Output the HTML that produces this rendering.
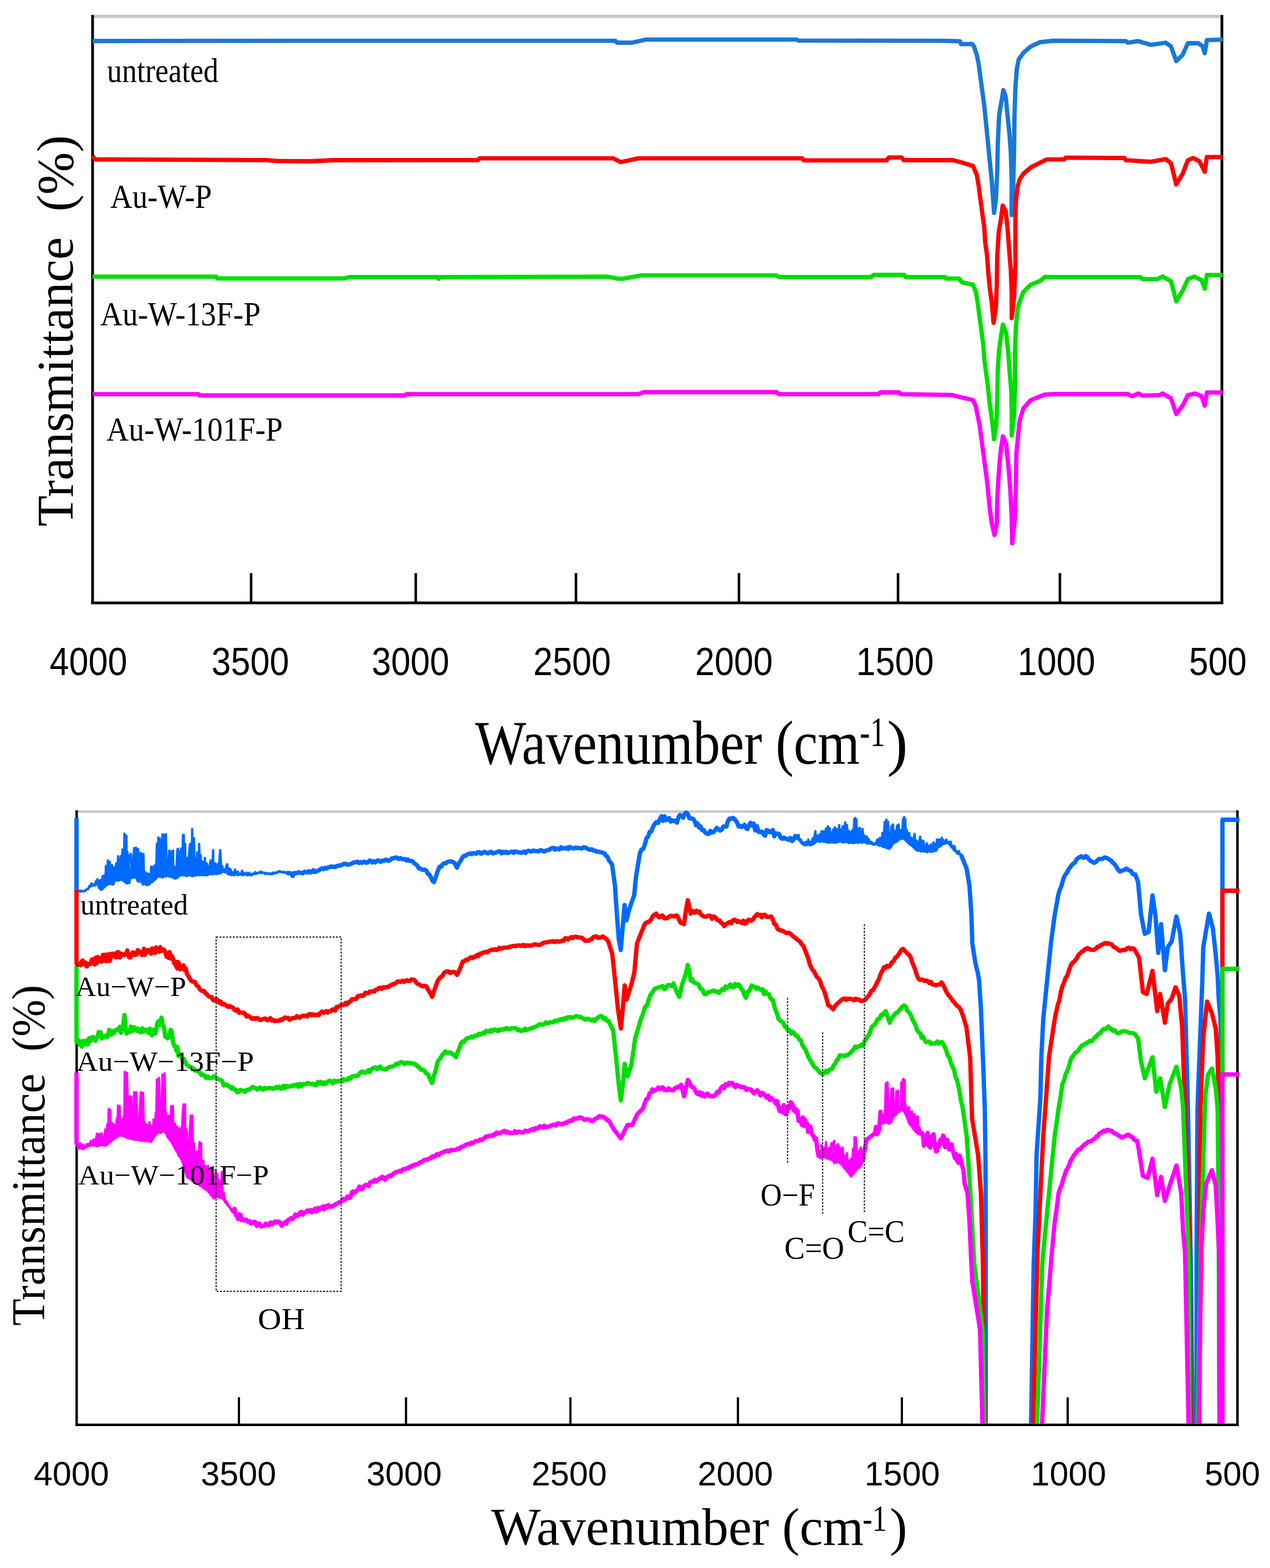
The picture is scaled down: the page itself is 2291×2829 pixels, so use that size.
<!DOCTYPE html>
<html><head><meta charset="utf-8"><title>FTIR spectra</title><style>html,body{margin:0;padding:0;background:#fff;overflow:hidden}svg{display:block}</style></head><body>
<svg width="2291" height="2829" viewBox="0 0 2291 2829">
<rect width="2291" height="2829" fill="#fff"/>
<line x1="167" y1="29.5" x2="2204" y2="29.5" stroke="#c8c8c8" stroke-width="6" />
<line x1="167" y1="27" x2="167" y2="1090" stroke="#000" stroke-width="5" />
<line x1="2204.2" y1="27" x2="2204.2" y2="1090" stroke="#000" stroke-width="5" />
<line x1="164.5" y1="1087.7" x2="2206.7" y2="1087.7" stroke="#000" stroke-width="5" />
<line x1="453" y1="1034" x2="453" y2="1088" stroke="#000" stroke-width="4.6" />
<line x1="750" y1="1034" x2="750" y2="1088" stroke="#000" stroke-width="4.6" />
<line x1="1039" y1="1034" x2="1039" y2="1088" stroke="#000" stroke-width="4.6" />
<line x1="1333" y1="1034" x2="1333" y2="1088" stroke="#000" stroke-width="4.6" />
<line x1="1620" y1="1034" x2="1620" y2="1088" stroke="#000" stroke-width="4.6" />
<line x1="1912" y1="1034" x2="1912" y2="1088" stroke="#000" stroke-width="4.6" />
<polyline points="167.0,74.0 600.0,73.6 1110.0,73.6 1113.0,77.0 1140.0,77.0 1166.0,71.3 1437.0,71.3 1440.0,73.2 1700.0,73.6 1731.9,74.4 1733.6,79.5 1753.7,79.5 1757.0,83.7 1762.0,98.8 1765.5,115.6 1768.8,140.8 1772.2,166.0 1775.6,191.0 1779.0,224.7 1782.3,258.3 1785.6,291.9 1789.0,325.5 1791.5,359.0 1793.2,384.0 1796.6,359.0 1799.0,308.7 1800.0,258.3 1802.4,207.9 1806.6,182.7 1810.0,162.6 1814.2,174.3 1817.5,208.0 1821.0,241.5 1823.4,275.0 1825.1,325.5 1824.8,388.0 1827.6,342.0 1829.3,275.0 1830.1,208.0 1831.8,157.5 1834.3,124.0 1837.7,107.2 1846.0,95.4 1859.5,83.7 1876.3,76.1 1900.0,73.5 2030.7,74.2 2034.5,77.0 2053.5,74.2 2076.3,80.9 2102.9,77.0 2112.4,83.7 2121.9,110.3 2133.3,99.0 2142.9,78.0 2161.9,78.0 2169.5,83.7 2173.3,96.0 2177.1,72.3 2205.6,71.4" fill="none" stroke="#1a78d6" stroke-width="7.8" stroke-linejoin="round" stroke-linecap="butt" />
<polyline points="167.0,281.0 171.0,287.5 480.0,288.8 500.0,290.5 560.0,291.0 600.0,289.0 862.0,288.8 865.0,285.6 1106.0,285.6 1119.7,292.5 1152.0,285.6 1447.0,285.6 1450.0,289.3 1599.0,289.3 1603.6,284.2 1626.6,284.2 1630.0,289.0 1718.8,289.0 1733.6,292.7 1755.4,299.5 1762.1,315.4 1765.5,335.6 1768.8,360.8 1772.2,386.0 1775.6,411.0 1777.2,436.3 1780.6,461.5 1783.1,495.0 1785.6,520.3 1789.0,545.5 1792.4,582.4 1796.6,553.9 1798.2,511.9 1799.0,461.5 1801.6,419.5 1805.8,394.3 1808.8,370.8 1814.2,380.9 1817.5,411.0 1820.0,444.7 1823.4,486.7 1825.1,528.7 1825.1,574.0 1829.3,537.0 1831.8,478.3 1831.8,394.3 1832.7,360.8 1836.0,335.6 1839.4,323.8 1846.0,313.7 1859.5,302.0 1876.3,293.6 1888.0,287.7 1920.0,287.5 1922.3,284.3 2028.8,285.2 2030.7,289.0 2076.3,291.9 2102.9,287.0 2112.4,294.7 2121.9,332.8 2133.3,313.8 2142.9,289.0 2152.4,285.2 2163.8,291.0 2173.3,310.0 2177.1,283.3 2205.6,283.3" fill="none" stroke="#ff0000" stroke-width="7.8" stroke-linejoin="round" stroke-linecap="butt" />
<polyline points="167.0,499.2 390.0,499.2 392.0,502.4 620.8,502.4 630.0,500.0 789.0,500.0 791.0,503.0 793.0,500.0 1096.7,499.2 1115.0,502.9 1124.0,502.9 1156.6,496.9 1400.8,496.9 1405.4,500.0 1571.3,500.0 1576.0,496.0 1631.0,496.0 1634.0,500.0 1705.0,500.0 1706.7,502.7 1730.2,502.7 1735.3,509.4 1755.4,513.6 1760.5,527.0 1763.8,547.2 1767.2,572.4 1770.5,597.5 1773.9,622.7 1775.6,647.9 1778.9,673.0 1782.3,698.3 1784.8,723.5 1788.2,748.7 1791.5,773.9 1793.2,792.3 1797.4,765.5 1799.0,715.0 1800.0,664.7 1802.4,631.0 1805.8,606.0 1809.2,585.8 1815.0,600.9 1818.4,631.0 1820.9,664.7 1824.3,706.7 1825.1,748.7 1825.1,785.6 1829.3,748.7 1831.0,698.3 1831.0,631.0 1832.7,589.0 1836.0,555.6 1839.4,543.8 1846.0,527.0 1859.5,513.6 1876.3,506.9 1884.7,500.0 2057.3,500.0 2061.0,503.7 2087.7,503.7 2097.2,499.0 2112.4,507.5 2121.9,543.7 2133.3,524.6 2142.9,503.7 2154.3,499.0 2167.6,505.6 2173.3,520.8 2177.1,496.1 2205.6,496.1" fill="none" stroke="#00dd00" stroke-width="7.8" stroke-linejoin="round" stroke-linecap="butt" />
<polyline points="167.0,711.2 358.0,711.2 360.0,713.5 731.0,713.5 733.0,711.2 1152.0,711.2 1161.0,707.5 1400.8,707.5 1405.0,711.2 1585.0,711.2 1588.0,708.0 1622.0,708.0 1625.0,711.2 1716.8,712.6 1733.6,716.8 1755.4,721.8 1760.5,733.6 1763.8,750.4 1767.2,767.2 1770.5,792.4 1773.9,817.5 1777.2,842.7 1780.6,867.9 1783.1,893.1 1785.6,918.3 1789.0,943.5 1794.0,965.3 1798.2,943.5 1799.0,901.5 1800.8,867.9 1803.3,834.3 1805.8,809.2 1809.2,787.3 1815.0,800.8 1817.5,826.0 1820.0,851.1 1822.6,884.7 1825.1,935.1 1826.0,980.4 1831.0,935.1 1832.7,867.9 1833.5,817.5 1836.0,792.4 1839.4,758.8 1846.0,736.9 1859.5,721.8 1876.3,715.1 1884.7,711.8 1905.2,711.0 2034.5,711.0 2042.0,714.8 2053.5,710.0 2061.0,713.8 2091.5,712.9 2097.2,710.0 2112.4,718.6 2121.9,747.0 2133.3,731.9 2142.9,712.9 2156.2,710.0 2167.6,714.8 2173.3,731.9 2177.1,708.1 2205.6,708.1" fill="none" stroke="#ff00ff" stroke-width="7.8" stroke-linejoin="round" stroke-linecap="butt" />
<text x="159.4" y="1217.5" font-size="71" font-family="'Liberation Sans', Arial, sans-serif" text-anchor="middle" textLength="140" lengthAdjust="spacingAndGlyphs" >4000</text>
<text x="451.5" y="1217.5" font-size="71" font-family="'Liberation Sans', Arial, sans-serif" text-anchor="middle" textLength="140" lengthAdjust="spacingAndGlyphs" >3500</text>
<text x="740.5" y="1217.5" font-size="71" font-family="'Liberation Sans', Arial, sans-serif" text-anchor="middle" textLength="140" lengthAdjust="spacingAndGlyphs" >3000</text>
<text x="1032" y="1217.5" font-size="71" font-family="'Liberation Sans', Arial, sans-serif" text-anchor="middle" textLength="140" lengthAdjust="spacingAndGlyphs" >2500</text>
<text x="1324" y="1217.5" font-size="71" font-family="'Liberation Sans', Arial, sans-serif" text-anchor="middle" textLength="140" lengthAdjust="spacingAndGlyphs" >2000</text>
<text x="1614.5" y="1217.5" font-size="71" font-family="'Liberation Sans', Arial, sans-serif" text-anchor="middle" textLength="140" lengthAdjust="spacingAndGlyphs" >1500</text>
<text x="1905.7" y="1217.5" font-size="71" font-family="'Liberation Sans', Arial, sans-serif" text-anchor="middle" textLength="140" lengthAdjust="spacingAndGlyphs" >1000</text>
<text x="2197" y="1217.5" font-size="71" font-family="'Liberation Sans', Arial, sans-serif" text-anchor="middle" textLength="104" lengthAdjust="spacingAndGlyphs" >500</text>
<text x="193" y="148.3" font-size="61" font-family="'Liberation Serif', 'Times New Roman', serif" text-anchor="start" textLength="201" lengthAdjust="spacingAndGlyphs" >untreated</text>
<text x="199" y="374.8" font-size="61" font-family="'Liberation Serif', 'Times New Roman', serif" text-anchor="start" textLength="183" lengthAdjust="spacingAndGlyphs" >Au-W-P</text>
<text x="181" y="586.5" font-size="61" font-family="'Liberation Serif', 'Times New Roman', serif" text-anchor="start" textLength="289" lengthAdjust="spacingAndGlyphs" >Au-W-13F-P</text>
<text x="192" y="794.5" font-size="61" font-family="'Liberation Serif', 'Times New Roman', serif" text-anchor="start" textLength="318" lengthAdjust="spacingAndGlyphs" >Au-W-101F-P</text>
<text x="857" y="1377.7" font-size="113" font-family="'Liberation Serif', 'Times New Roman', serif" text-anchor="start" textLength="694" lengthAdjust="spacingAndGlyphs" >Wavenumber (cm</text>
<text x="1551" y="1345.5" font-size="76" font-family="'Liberation Serif', 'Times New Roman', serif" text-anchor="start" textLength="46" lengthAdjust="spacingAndGlyphs" >-1</text>
<text x="1600" y="1377.7" font-size="113" font-family="'Liberation Serif', 'Times New Roman', serif" text-anchor="start" >)</text>
<g transform="translate(131,950) rotate(-90)"><text x="0" y="0" font-size="93" font-family="'Liberation Serif', 'Times New Roman', serif" text-anchor="start" textLength="706" lengthAdjust="spacingAndGlyphs" >Transmittance&#160; (%)</text></g>
<line x1="138" y1="1464.2" x2="2232" y2="1464.2" stroke="#c8c8c8" stroke-width="4.5" />
<line x1="138.3" y1="1462" x2="138.3" y2="2573" stroke="#000" stroke-width="4.5" />
<line x1="2232.3" y1="1462" x2="2232.3" y2="2573" stroke="#000" stroke-width="4.5" />
<line x1="136" y1="2570.7" x2="2234.5" y2="2570.7" stroke="#000" stroke-width="4.5" />
<line x1="431" y1="2521" x2="431" y2="2570" stroke="#000" stroke-width="4" />
<line x1="732.4" y1="2521" x2="732.4" y2="2570" stroke="#000" stroke-width="4" />
<line x1="1029" y1="2521" x2="1029" y2="2570" stroke="#000" stroke-width="4" />
<line x1="1331.2" y1="2521" x2="1331.2" y2="2570" stroke="#000" stroke-width="4" />
<line x1="1626.9" y1="2521" x2="1626.9" y2="2570" stroke="#000" stroke-width="4" />
<line x1="1926" y1="2521" x2="1926" y2="2570" stroke="#000" stroke-width="4" />
<defs><clipPath id="cb"><rect x="100" y="1440" width="2191" height="1128.5"/></clipPath></defs>
<g clip-path="url(#cb)">
<polyline points="138.0,1476.0 138.0,1608.6 141.0,1608.0" fill="none" stroke="#006aff" stroke-width="7.8" stroke-linejoin="round" stroke-linecap="butt" />
<polyline points="519.0,1574.4 520.0,1575.8 522.7,1575.1 525.3,1576.2 528.0,1580.5 530.6,1575.1 533.3,1575.1 536.0,1575.3 538.6,1573.6 541.3,1574.7 544.0,1575.1 546.6,1575.6 549.3,1572.7 551.9,1573.4 554.6,1574.0 557.2,1571.8 559.9,1574.2 562.5,1573.2 565.2,1570.0 567.8,1573.2 570.5,1572.6 573.1,1570.8 575.8,1570.2 578.4,1567.8 581.1,1566.7 583.7,1568.2 586.4,1565.8 589.0,1567.0 591.7,1565.1 594.3,1564.7 597.0,1563.2 599.7,1564.2 602.3,1563.5 605.0,1564.4 607.7,1562.5 610.4,1562.3 613.0,1561.1 615.7,1561.1 618.4,1559.6 621.0,1558.3 623.7,1558.5 626.4,1560.2 629.0,1559.9 631.7,1559.1 634.3,1558.3 637.0,1556.4 639.7,1555.8 642.3,1555.8 645.0,1554.6 647.7,1557.1 650.3,1555.4 653.0,1556.9 655.6,1554.8 658.3,1555.0 661.0,1556.7 663.6,1556.1 666.3,1552.6 668.9,1553.3 671.6,1556.0 674.2,1554.1 676.9,1556.0 679.5,1553.5 682.2,1552.1 684.8,1554.2 687.5,1554.7 690.1,1552.5 692.8,1553.3 695.5,1551.1 698.2,1551.5 700.9,1553.4 703.6,1552.0 706.2,1548.9 708.9,1548.8 711.6,1547.7 714.3,1546.9 717.0,1548.1 719.7,1549.9 722.4,1548.0 725.1,1550.1 727.8,1550.2 730.4,1549.8 733.1,1552.5 735.8,1550.7 738.5,1553.3 741.2,1553.3 744.1,1554.1 747.0,1557.6 749.9,1559.1 752.7,1561.6 755.6,1566.8 758.5,1567.2 762.0,1569.5 765.4,1568.7 768.9,1570.6 771.7,1576.3 774.4,1577.7 777.2,1582.6 779.9,1588.6 782.7,1591.3 786.1,1582.7 789.6,1571.3 793.0,1563.7 795.8,1563.9 798.6,1559.1 801.4,1557.5 804.2,1557.8 807.0,1555.0 810.4,1554.3 813.9,1554.2 817.3,1555.0 820.8,1558.5 824.2,1565.4 827.6,1557.4 831.1,1553.1 834.5,1546.4 837.3,1544.0 840.1,1544.0 842.8,1541.7 845.6,1540.7 848.4,1539.5 851.1,1541.2 853.7,1539.2 856.4,1539.4 859.0,1540.4 861.7,1537.6 864.4,1537.3 867.0,1540.2 869.7,1539.7 872.4,1537.3 875.0,1537.0 877.7,1539.0 880.3,1539.7 883.0,1537.8 885.7,1536.6 888.5,1539.6 891.2,1539.3 893.9,1538.2 896.6,1537.5 899.4,1536.2 902.1,1536.0 904.8,1539.7 907.5,1536.8 910.3,1538.6 913.0,1536.8 915.7,1539.1 918.4,1538.2 921.2,1537.0 923.9,1536.5 926.6,1538.7 929.3,1536.1 932.1,1536.7 934.8,1537.8 937.5,1537.9 940.1,1538.9 942.8,1537.8 945.4,1536.4 948.1,1538.8 950.8,1535.8 953.4,1534.9 956.1,1535.8 958.8,1536.3 961.4,1534.7 964.1,1535.0 966.7,1535.6 969.4,1536.0 972.1,1535.9 974.7,1533.7 977.4,1534.3 980.0,1536.0 982.7,1536.0 985.4,1534.3 988.0,1534.0 990.7,1533.2 993.4,1531.0 996.0,1530.2 998.7,1529.8 1001.3,1532.9 1004.0,1530.9 1006.7,1531.6 1009.3,1532.5 1012.0,1528.6 1014.6,1530.9 1017.3,1530.1 1019.9,1531.0 1022.6,1529.2 1025.2,1531.8 1027.9,1528.0 1030.5,1529.7 1033.2,1530.3 1035.8,1530.8 1038.5,1529.1 1041.4,1530.0 1044.3,1529.9 1047.2,1530.3 1050.0,1530.8 1052.9,1528.5 1055.8,1529.1 1058.7,1530.7 1061.5,1532.4 1064.4,1533.2 1067.3,1532.2 1070.1,1534.6 1073.0,1534.3 1075.9,1536.6 1078.8,1536.3 1081.7,1537.4 1084.5,1537.3 1087.4,1539.0 1090.3,1539.5 1093.1,1544.0 1095.9,1546.0 1098.6,1552.4 1101.4,1555.9 1104.2,1560.0 1109.4,1598.3 1112.8,1650.0 1116.3,1695.0 1119.8,1714.0 1123.2,1674.3 1126.7,1632.8 1130.1,1660.5 1135.3,1639.7 1144.0,1615.5 1147.4,1581.0 1154.3,1539.5 1157.3,1532.6 1160.3,1531.6 1163.4,1523.3 1166.4,1511.8 1169.2,1509.7 1171.9,1500.8 1174.7,1500.2 1177.4,1493.5 1180.2,1487.7 1183.7,1483.5 1187.1,1484.8 1190.6,1477.3 1193.4,1472.6 1196.1,1481.0 1198.9,1472.7 1201.7,1479.9 1204.4,1478.8 1207.2,1476.1 1210.0,1482.1 1212.8,1480.0 1215.5,1481.7 1218.3,1480.7 1221.1,1484.2 1223.9,1474.7 1226.7,1470.3 1229.5,1472.3 1232.3,1475.3 1235.1,1468.1 1237.9,1466.1 1240.7,1468.6 1243.7,1476.5 1246.8,1476.6 1249.8,1477.0 1252.8,1480.7 1255.6,1488.9 1258.4,1485.5 1261.1,1493.1 1263.9,1490.9 1266.7,1498.0 1269.7,1497.7 1272.6,1502.7 1275.6,1504.5 1278.5,1504.6 1281.5,1499.1 1284.4,1502.0 1287.4,1501.5 1290.3,1497.6 1293.2,1493.7 1296.1,1496.3 1298.9,1498.6 1301.8,1497.0 1304.7,1491.1 1307.6,1491.1 1310.5,1491.3 1313.3,1480.7 1316.2,1476.8 1319.1,1477.6 1322.0,1475.6 1325.4,1478.1 1328.9,1482.5 1332.3,1491.1 1335.0,1489.9 1337.7,1492.2 1340.4,1490.5 1343.1,1488.1 1345.7,1494.2 1348.4,1495.8 1351.1,1489.2 1353.8,1484.5 1356.5,1489.4 1359.5,1486.0 1362.4,1498.3 1365.4,1490.5 1368.4,1500.8 1371.4,1501.3 1374.3,1500.4 1377.3,1504.9 1380.1,1507.7 1382.8,1497.8 1385.6,1498.5 1388.3,1501.6 1391.1,1501.5 1394.0,1497.5 1396.9,1508.9 1399.8,1503.5 1402.6,1504.1 1405.5,1504.6 1408.4,1511.8 1411.3,1513.4 1414.2,1511.2 1417.1,1513.4 1419.9,1513.7 1422.8,1515.5 1425.7,1511.8 1428.8,1517.3 1431.8,1514.1 1434.9,1508.3 1437.9,1511.6 1441.0,1511.9" fill="none" stroke="#006aff" stroke-width="7.8" stroke-linejoin="round" stroke-linecap="butt" />
<polyline points="1734.0,1543.0 1743.7,1567.2 1748.9,1598.3 1752.3,1650.1 1754.0,1702.0 1759.3,1736.5 1763.9,1755.3 1766.2,1769.1 1769.6,1821.0 1773.1,1907.4 1776.5,2000.0 1777.8,2098.3 1778.3,2260.0 1778.3,2600.0 1859.5,2600.0 1864.7,2280.0 1868.1,2187.4 1869.9,2083.7 1876.8,1980.0 1878.5,1907.4 1882.0,1838.3 1888.9,1769.1 1895.8,1702.0 1902.7,1650.1 1906.2,1630.9 1909.6,1612.0 1912.2,1604.5 1914.8,1598.2 1917.4,1588.6 1920.0,1581.0 1922.8,1576.9 1925.5,1573.0 1928.3,1567.3 1931.0,1564.4 1933.8,1560.2 1936.6,1558.0 1939.3,1555.9 1942.1,1550.3 1944.8,1548.4 1947.6,1546.4 1950.4,1544.8 1953.2,1547.6 1955.9,1547.2 1958.7,1544.6 1961.5,1546.4 1964.5,1550.9 1967.5,1553.5 1970.6,1554.8 1973.6,1556.8 1976.6,1555.5 1979.7,1552.0 1982.7,1549.7 1985.7,1549.9 1989.1,1549.4 1992.6,1546.9 1996.0,1548.1 1998.8,1548.9 2001.6,1551.2 2004.3,1552.5 2007.1,1556.3 2009.9,1558.5 2013.3,1562.9 2016.8,1569.1 2020.2,1572.3 2023.2,1571.1 2026.2,1570.3 2029.3,1568.5 2032.3,1567.2 2034.9,1569.6 2037.5,1570.5 2040.1,1571.5 2042.7,1576.1 2045.3,1577.8 2047.9,1577.5 2053.0,1591.3 2058.3,1650.1 2065.2,1684.7 2072.1,1681.2 2079.0,1615.5 2084.2,1650.1 2089.4,1719.2 2094.5,1667.4 2101.4,1750.4 2106.6,1708.9 2113.6,1698.5 2122.2,1653.6 2129.1,1684.7 2134.3,1760.0 2137.8,1803.7 2143.0,2000.0 2148.1,2280.0 2151.6,2600.0 2158.5,2600.0 2158.5,2280.0 2160.2,2000.0 2168.9,1769.1 2170.6,1708.9 2181.0,1648.4 2187.9,1674.3 2193.1,1722.7 2196.5,1760.0 2198.3,1800.0 2201.7,1838.3 2203.0,2000.0 2204.0,2600.0 2205.2,2600.0 2205.2,1479.0 2236.0,1479.0" fill="none" stroke="#006aff" stroke-width="7.8" stroke-linejoin="round" stroke-linecap="butt" />
<polyline points="140.0,1607.5 142.4,1607.4 144.8,1609.1 147.2,1606.8 149.6,1608.2 152.0,1607.7 153.0,1606.5 154.4,1607.0 156.8,1603.8 159.2,1603.8 161.6,1598.2 164.0,1599.1 165.0,1593.5 166.4,1598.1 168.8,1595.6 171.2,1597.9 173.6,1588.9 176.0,1586.5 178.4,1601.7 180.8,1587.8 183.2,1603.9 185.0,1580.5 185.6,1598.1 188.0,1579.4 190.4,1590.1 191.0,1562.5 192.8,1595.3 194.5,1552.4 195.2,1584.9 197.6,1560.2 198.0,1554.5 200.0,1587.4 202.0,1560.5 202.4,1587.3 204.8,1564.3 207.2,1586.4 209.6,1558.2 210.0,1557.5 212.0,1582.8 213.0,1544.5 214.4,1584.3 216.8,1556.3 218.0,1544.5 219.2,1587.0 221.0,1532.5 221.6,1588.7 224.0,1531.4 224.5,1504.0 226.4,1586.2 228.0,1507.5 228.8,1574.2 230.0,1537.0 231.2,1583.6 233.6,1543.3 236.0,1540.5 238.4,1573.4 240.8,1548.2 242.0,1530.0 243.2,1575.9 245.2,1529.3 245.6,1569.6 248.0,1552.1 249.0,1531.5 250.4,1581.0 251.0,1551.5 252.8,1579.8 253.5,1538.7 255.2,1582.8 255.6,1540.8 257.6,1587.7 258.7,1540.5 260.0,1592.1 262.0,1573.5 262.4,1592.8 264.8,1579.2 266.0,1575.5 267.2,1594.1 269.6,1577.2 272.0,1586.5 272.5,1563.5 274.4,1591.1 276.8,1563.4 279.2,1583.5 280.0,1560.5 281.6,1578.5 283.0,1522.5 284.0,1580.9 285.5,1510.9 286.4,1567.6 288.0,1512.5 288.8,1580.3 291.2,1552.0 291.3,1532.5 293.2,1505.0 293.6,1568.1 296.0,1506.3 298.4,1561.6 299.3,1505.0 300.8,1576.3 301.0,1558.5 303.2,1574.8 305.3,1534.5 305.6,1575.5 308.0,1553.1 308.6,1536.2 310.4,1573.1 312.2,1534.5 312.8,1584.1 315.2,1565.3 315.7,1564.5 317.6,1579.3 320.0,1532.5 321.2,1531.5 322.4,1570.2 324.8,1542.0 327.0,1530.9 327.2,1575.0 329.6,1530.5 330.0,1506.7 331.6,1506.3 332.0,1576.7 334.0,1522.5 334.4,1579.4 336.8,1552.3 338.5,1547.5 339.2,1578.6 341.6,1533.9 343.0,1522.5 344.0,1576.9 346.4,1518.1 346.6,1495.9 348.8,1572.0 350.0,1512.5 351.2,1571.3 353.0,1550.5 353.6,1572.0 356.0,1537.5 358.4,1579.0 359.3,1522.5 360.8,1579.0 362.0,1542.5 363.2,1572.1 365.6,1561.8 366.0,1554.5 368.0,1571.2 369.6,1547.8 370.4,1578.9 372.8,1564.6 373.0,1557.5 375.2,1572.7 377.6,1564.7 380.0,1552.5 382.4,1574.7 384.6,1533.9 384.8,1577.3 387.2,1558.7 388.0,1557.5 389.6,1572.1 392.0,1560.0 393.0,1558.5 394.4,1569.4 396.8,1539.2 397.3,1533.9 399.2,1567.7 401.0,1562.5 401.6,1571.8 404.0,1568.0 406.4,1573.5 408.8,1561.0 410.0,1559.3 411.2,1572.7 413.6,1567.2 416.0,1568.5 418.4,1576.5 420.8,1573.6 423.2,1578.6 423.8,1568.5 425.6,1575.5 428.0,1574.3 429.0,1572.5 430.4,1577.7 432.8,1576.4 435.2,1577.8 436.5,1570.8 437.6,1577.1 440.0,1574.6 442.4,1577.8 444.8,1576.4 445.0,1574.5 447.2,1578.8 449.6,1574.8 452.0,1578.5 454.4,1576.7 456.8,1576.1 459.2,1577.0 460.0,1573.5 461.6,1575.4 464.0,1575.0 466.4,1574.3 468.8,1573.7 471.0,1572.5 471.2,1574.3 473.6,1574.3 476.0,1574.4 478.4,1577.1 480.8,1575.2 483.2,1577.2 485.6,1575.4 487.0,1576.5 488.0,1576.7 490.4,1577.5 492.8,1574.2 495.2,1576.3 497.6,1574.0 500.0,1575.0 502.4,1572.6 503.0,1572.5 504.8,1571.7 507.2,1573.5 509.6,1573.2 512.0,1574.7 514.4,1573.5 516.8,1575.4 519.2,1573.0 520.0,1574.5" fill="none" stroke="#006aff" stroke-width="4.2" stroke-linejoin="round" stroke-linecap="butt" />
<polygon points="140.0,1608.3 142.4,1608.2 144.8,1608.1 147.2,1608.1 149.6,1608.0 152.0,1607.9 153.0,1607.9 154.4,1606.7 156.8,1604.6 159.2,1602.6 161.6,1600.5 164.0,1598.5 165.0,1597.6 166.4,1597.0 168.8,1595.9 171.2,1594.9 173.6,1593.8 176.0,1592.8 178.4,1595.0 180.8,1596.2 183.2,1595.0 185.0,1594.1 185.6,1593.2 188.0,1589.0 190.4,1584.7 191.0,1583.7 192.8,1580.5 194.5,1577.6 195.2,1577.4 197.6,1577.7 198.0,1577.8 200.0,1579.2 202.0,1580.5 202.4,1580.5 204.8,1580.1 207.2,1576.0 209.6,1575.9 210.0,1575.8 212.0,1572.2 213.0,1570.4 214.4,1570.5 216.8,1569.6 218.0,1569.0 219.2,1566.3 221.0,1563.9 221.6,1561.9 224.0,1554.1 224.5,1552.5 226.4,1554.2 228.0,1555.6 228.8,1560.9 230.0,1568.9 231.2,1569.2 233.6,1569.8 236.0,1564.9 238.4,1563.1 240.8,1561.2 242.0,1560.2 243.2,1560.1 245.2,1559.9 245.6,1560.0 248.0,1564.5 249.0,1564.7 250.4,1571.0 251.0,1573.7 252.8,1569.6 253.5,1568.0 255.2,1569.9 255.6,1570.4 257.6,1571.6 258.7,1571.7 260.0,1577.6 262.0,1586.7 262.4,1586.8 264.8,1587.5 266.0,1587.8 267.2,1586.5 269.6,1583.8 272.0,1581.1 272.5,1580.5 274.4,1579.6 276.8,1578.4 279.2,1576.6 280.0,1575.9 281.6,1565.8 283.0,1556.9 284.0,1554.2 285.5,1551.1 286.4,1551.3 288.0,1551.8 288.8,1554.0 291.2,1560.5 291.3,1560.8 293.2,1548.4 293.6,1548.5 296.0,1548.9 298.4,1548.1 299.3,1547.8 300.8,1568.9 301.0,1571.7 303.2,1565.9 305.3,1561.0 305.6,1561.1 308.0,1562.1 308.6,1562.4 310.4,1562.3 312.2,1562.3 312.8,1564.7 315.2,1574.4 315.7,1576.4 317.6,1570.4 320.0,1561.6 321.2,1560.6 322.4,1560.1 324.8,1558.9 327.0,1557.9 327.2,1557.2 329.6,1548.6 330.0,1547.2 331.6,1547.1 332.0,1548.3 334.0,1554.5 334.4,1555.5 336.8,1561.7 338.5,1566.0 339.2,1564.3 341.6,1558.4 343.0,1555.0 344.0,1551.8 346.4,1543.9 346.6,1543.2 348.8,1547.8 350.0,1550.4 351.2,1557.1 353.0,1567.2 353.6,1566.0 356.0,1561.2 358.4,1556.1 359.3,1554.2 360.8,1559.1 362.0,1563.1 363.2,1564.7 365.6,1568.0 366.0,1568.5 368.0,1566.8 369.6,1565.5 370.4,1566.5 372.8,1569.6 373.0,1569.8 375.2,1569.1 377.6,1568.1 380.0,1567.2 382.4,1562.6 384.6,1558.5 384.8,1559.1 387.2,1566.4 388.0,1568.8 389.6,1568.8 392.0,1568.9 393.0,1568.9 394.4,1565.2 396.8,1558.8 397.3,1557.5 399.2,1563.9 401.0,1570.1 401.6,1569.9 404.0,1569.6 406.4,1569.5 408.8,1569.5 410.0,1569.5 411.2,1570.5 413.6,1572.5 416.0,1574.5 418.4,1574.8 420.8,1574.8 423.2,1574.8 423.8,1574.8 425.6,1575.4 428.0,1576.3 429.0,1576.6 430.4,1576.5 432.8,1576.2 435.2,1576.0 436.5,1575.8 437.6,1576.1 440.0,1576.5 442.4,1577.0 444.8,1577.5 445.0,1577.5 447.2,1577.4 449.6,1577.4 452.0,1577.3 454.4,1576.9 456.8,1576.6 459.2,1576.2 460.0,1576.1 461.6,1575.8 464.0,1575.4 466.4,1575.0 468.8,1574.6 471.0,1574.5 471.2,1574.5 473.6,1574.9 476.0,1575.4 478.4,1575.8 480.8,1576.2 483.2,1576.6 485.6,1577.1 487.0,1577.3 488.0,1577.1 490.4,1576.5 492.8,1575.9 495.2,1575.3 497.6,1574.7 500.0,1574.1 502.4,1573.5 503.0,1573.3 504.8,1573.5 507.2,1573.7 509.6,1573.9 512.0,1574.1 514.4,1574.3 516.8,1574.5 519.2,1574.7 520.0,1574.7 520.0,1574.4 519.2,1572.5 516.8,1574.8 514.4,1573.5 512.0,1572.6 509.6,1572.1 507.2,1572.9 504.8,1572.9 503.0,1572.3 502.4,1571.2 500.0,1573.2 497.6,1574.4 495.2,1574.7 492.8,1575.8 490.4,1574.4 488.0,1577.3 487.0,1576.7 485.6,1575.8 483.2,1575.6 480.8,1575.7 478.4,1574.2 476.0,1575.8 473.6,1574.3 471.2,1573.6 471.0,1575.8 468.8,1575.1 466.4,1574.7 464.0,1576.9 461.6,1577.2 460.0,1576.8 459.2,1575.8 456.8,1576.3 454.4,1579.4 452.0,1579.7 449.6,1578.4 447.2,1579.7 445.0,1579.6 444.8,1578.0 442.4,1578.5 440.0,1577.6 437.6,1579.9 436.5,1577.2 435.2,1577.2 432.8,1578.5 430.4,1578.5 429.0,1579.7 428.0,1578.7 425.6,1577.8 423.8,1579.2 423.2,1579.8 420.8,1578.9 418.4,1579.4 416.0,1578.8 413.6,1577.7 411.2,1578.0 410.0,1575.7 408.8,1575.0 406.4,1574.6 404.0,1573.7 401.6,1573.3 401.0,1573.9 399.2,1575.2 397.3,1575.3 396.8,1576.8 394.4,1576.2 393.0,1576.3 392.0,1577.5 389.6,1577.7 388.0,1576.7 387.2,1576.1 384.8,1576.2 384.6,1575.9 382.4,1578.3 380.0,1576.7 377.6,1578.1 375.2,1578.6 373.0,1579.9 372.8,1577.5 370.4,1578.5 369.6,1579.7 368.0,1579.0 366.0,1579.7 365.6,1579.1 363.2,1578.6 362.0,1579.5 360.8,1578.4 359.3,1577.3 358.4,1579.6 356.0,1578.6 353.6,1580.3 353.0,1579.1 351.2,1579.7 350.0,1580.6 348.8,1579.6 346.6,1581.9 346.4,1581.0 344.0,1579.9 343.0,1580.0 341.6,1578.9 339.2,1580.0 338.5,1580.9 336.8,1581.0 334.4,1580.6 334.0,1579.2 332.0,1579.2 331.6,1578.4 330.0,1578.7 329.6,1580.2 327.2,1577.4 327.0,1577.3 324.8,1580.8 322.4,1581.1 321.2,1583.5 320.0,1583.7 317.6,1585.6 315.7,1584.3 315.2,1585.8 312.8,1582.9 312.2,1582.1 310.4,1582.8 308.6,1581.4 308.0,1582.3 305.6,1582.0 305.3,1582.3 303.2,1580.2 301.0,1580.9 300.8,1579.8 299.3,1582.1 298.4,1580.4 296.0,1581.7 293.6,1583.9 293.2,1583.2 291.3,1581.9 291.2,1582.7 288.8,1582.6 288.0,1581.7 286.4,1582.2 285.5,1581.6 284.0,1582.6 283.0,1583.9 281.6,1586.0 280.0,1587.2 279.2,1588.0 276.8,1590.0 274.4,1592.2 272.5,1592.1 272.0,1593.0 269.6,1596.0 267.2,1597.2 266.0,1595.6 264.8,1597.5 262.4,1596.2 262.0,1596.0 260.0,1594.7 258.7,1595.5 257.6,1596.7 255.6,1591.7 255.2,1592.9 253.5,1589.8 252.8,1590.4 251.0,1589.9 250.4,1591.1 249.0,1589.9 248.0,1590.5 245.6,1583.5 245.2,1582.9 243.2,1583.1 242.0,1584.4 240.8,1582.4 238.4,1584.8 236.0,1582.9 233.6,1594.1 231.2,1593.7 230.0,1592.5 228.8,1594.8 228.0,1594.2 226.4,1592.1 224.5,1592.0 224.0,1591.1 221.6,1587.8 221.0,1587.6 219.2,1586.2 218.0,1587.2 216.8,1588.4 214.4,1589.0 213.0,1589.5 212.0,1588.6 210.0,1589.2 209.6,1588.3 207.2,1590.1 204.8,1596.1 202.4,1596.6 202.0,1596.0 200.0,1594.8 198.0,1595.3 197.6,1594.6 195.2,1595.8 194.5,1596.5 192.8,1597.3 191.0,1598.2 190.4,1599.3 188.0,1601.6 185.6,1603.0 185.0,1605.2 183.2,1605.7 180.8,1605.0 178.4,1601.8 176.0,1595.5 173.6,1596.7 171.2,1596.5 168.8,1597.9 166.4,1598.7 165.0,1599.4 164.0,1598.9 161.6,1601.0 159.2,1602.7 156.8,1605.1 154.4,1605.9 153.0,1607.7 152.0,1608.5 149.6,1608.9 147.2,1607.3 144.8,1606.3 142.4,1606.7 140.0,1606.4" fill="#006aff" stroke="#006aff" stroke-width="3" stroke-linejoin="round"/>
<polyline points="1440.0,1504.5 1442.4,1516.1 1444.8,1517.6 1445.0,1514.5 1447.2,1522.4 1449.6,1519.8 1452.0,1522.5 1454.4,1518.7 1456.8,1521.6 1458.0,1514.5 1459.2,1523.6 1461.6,1518.8 1464.0,1522.0 1466.0,1512.5 1466.4,1522.9 1468.8,1511.2 1471.0,1499.5 1471.2,1516.5 1473.6,1507.1 1476.0,1513.1 1478.4,1505.6 1480.8,1515.0 1482.0,1499.5 1483.2,1513.0 1485.6,1499.5 1488.0,1518.4 1490.0,1494.5 1490.4,1514.8 1492.8,1500.0 1493.6,1490.5 1495.2,1512.4 1497.0,1494.5 1497.6,1515.2 1500.0,1501.8 1502.4,1514.1 1503.0,1496.5 1504.8,1519.7 1506.0,1492.5 1507.2,1518.6 1509.6,1506.2 1510.0,1495.5 1512.0,1514.3 1514.0,1488.5 1514.4,1514.3 1516.8,1496.5 1519.2,1519.5 1520.0,1490.5 1521.6,1516.6 1524.0,1488.1 1524.7,1483.5 1526.4,1518.0 1528.0,1488.5 1528.8,1516.4 1531.2,1499.0 1533.0,1502.5 1533.6,1515.9 1536.0,1501.3 1538.0,1497.5 1538.4,1521.0 1540.8,1488.6 1541.0,1478.5 1542.8,1475.8 1543.2,1517.6 1545.0,1478.5 1545.6,1518.6 1547.0,1494.5 1548.0,1515.2 1550.4,1501.5 1551.0,1493.5 1552.8,1514.1 1555.2,1506.3 1556.0,1495.5 1557.6,1519.1 1560.0,1507.6 1562.4,1520.0 1564.0,1509.5 1564.8,1521.0 1567.2,1514.2 1569.6,1521.6 1572.0,1518.9 1574.4,1521.8 1576.8,1524.1 1578.0,1521.5 1579.2,1522.2 1581.6,1517.3 1583.0,1514.5 1584.0,1524.3 1586.4,1518.8 1587.0,1511.5 1588.8,1521.2 1591.2,1509.9 1592.0,1502.5 1593.6,1526.0 1596.0,1482.5 1598.4,1528.7 1599.0,1478.5 1600.8,1530.0 1602.0,1482.5 1603.2,1521.2 1604.0,1502.5 1605.6,1524.2 1608.0,1490.5 1610.4,1519.0 1611.0,1487.5 1612.8,1516.0 1615.0,1499.5 1615.2,1517.6 1617.6,1497.3 1618.0,1489.5 1620.0,1515.8 1621.0,1487.5 1622.4,1511.0 1624.8,1502.6 1625.0,1497.5 1627.2,1509.4 1629.0,1477.5 1629.6,1511.9 1631.0,1474.1 1632.0,1514.5 1633.0,1477.5 1634.4,1517.3 1636.0,1497.5 1636.8,1514.7 1639.2,1510.5 1640.0,1502.5 1641.6,1520.2 1644.0,1511.3 1646.4,1525.9 1648.8,1510.2 1650.0,1504.5 1651.2,1531.0 1653.6,1517.1 1656.0,1535.1 1658.4,1518.2 1660.0,1509.5 1660.8,1529.3 1663.2,1516.3 1665.6,1533.0 1666.0,1517.5 1668.0,1534.4 1670.4,1527.5 1672.0,1521.5 1672.8,1536.0 1675.2,1525.6 1677.6,1534.2 1680.0,1523.3 1682.4,1534.9 1684.0,1519.5 1684.8,1535.4 1687.2,1522.3 1689.6,1530.2 1690.0,1514.5 1692.0,1527.8 1694.4,1514.0 1696.8,1522.0 1699.0,1511.5 1699.2,1522.4 1701.6,1515.4 1704.0,1520.0 1706.4,1519.4 1707.0,1514.5 1708.8,1521.2 1711.2,1519.0 1713.6,1524.9 1715.0,1518.5 1716.0,1525.7 1718.4,1525.9 1720.8,1533.6 1722.0,1526.5 1723.2,1534.9 1725.6,1535.2 1728.0,1538.5 1730.0,1535.5 1730.4,1540.9 1732.8,1540.5 1735.0,1542.5" fill="none" stroke="#006aff" stroke-width="4.2" stroke-linejoin="round" stroke-linecap="butt" />
<polygon points="1440.0,1511.3 1442.4,1514.7 1444.8,1518.0 1445.0,1518.3 1447.2,1519.4 1449.6,1520.6 1452.0,1520.8 1454.4,1520.8 1456.8,1520.8 1458.0,1520.8 1459.2,1520.7 1461.6,1520.4 1464.0,1520.1 1466.0,1519.2 1466.4,1518.6 1468.8,1514.9 1471.0,1511.6 1471.2,1511.5 1473.6,1510.7 1476.0,1510.3 1478.4,1510.4 1480.8,1510.6 1482.0,1510.7 1483.2,1510.4 1485.6,1509.9 1488.0,1509.4 1490.0,1509.0 1490.4,1508.8 1492.8,1507.8 1493.6,1507.4 1495.2,1508.4 1497.0,1509.5 1497.6,1509.6 1500.0,1510.0 1502.4,1510.3 1503.0,1510.4 1504.8,1509.3 1506.0,1508.5 1507.2,1508.9 1509.6,1509.6 1510.0,1509.7 1512.0,1508.1 1514.0,1506.5 1514.4,1506.5 1516.8,1506.8 1519.2,1507.2 1520.0,1507.3 1521.6,1506.3 1524.0,1504.8 1524.7,1504.3 1526.4,1505.5 1528.0,1506.7 1528.8,1507.7 1531.2,1510.8 1533.0,1513.1 1533.6,1512.9 1536.0,1511.9 1538.0,1511.0 1538.4,1509.8 1540.8,1503.0 1541.0,1502.4 1542.8,1501.2 1543.2,1501.4 1545.0,1502.4 1545.6,1504.6 1547.0,1509.6 1548.0,1509.5 1550.4,1509.2 1551.0,1509.2 1552.8,1509.5 1555.2,1509.9 1556.0,1510.0 1557.6,1511.3 1560.0,1513.4 1562.4,1515.5 1564.0,1516.9 1564.8,1517.3 1567.2,1518.4 1569.6,1519.5 1572.0,1520.7 1574.4,1521.8 1576.8,1522.9 1578.0,1523.5 1579.2,1522.9 1581.6,1521.6 1583.0,1520.8 1584.0,1520.6 1586.4,1520.2 1587.0,1520.1 1588.8,1519.0 1591.2,1517.4 1592.0,1516.9 1593.6,1513.6 1596.0,1508.6 1598.4,1507.5 1599.0,1507.3 1600.8,1508.7 1602.0,1509.6 1603.2,1515.2 1604.0,1518.9 1605.6,1517.0 1608.0,1512.1 1610.4,1509.0 1611.0,1508.2 1612.8,1509.1 1615.0,1511.3 1615.2,1511.0 1617.6,1506.8 1618.0,1506.1 1620.0,1504.9 1621.0,1504.4 1622.4,1505.6 1624.8,1507.7 1625.0,1507.8 1627.2,1502.3 1629.0,1497.8 1629.6,1497.2 1631.0,1496.6 1632.0,1497.9 1633.0,1499.2 1634.4,1504.2 1636.0,1509.8 1636.8,1510.7 1639.2,1513.4 1640.0,1514.3 1641.6,1515.3 1644.0,1516.9 1646.4,1518.1 1648.8,1519.4 1650.0,1520.0 1651.2,1520.8 1653.6,1522.4 1656.0,1523.3 1658.4,1524.1 1660.0,1524.6 1660.8,1525.2 1663.2,1526.9 1665.6,1528.5 1666.0,1528.7 1668.0,1529.3 1670.4,1530.1 1672.0,1530.5 1672.8,1530.5 1675.2,1530.3 1677.6,1530.1 1680.0,1530.0 1682.4,1529.8 1684.0,1529.7 1684.8,1529.4 1687.2,1528.3 1689.6,1526.0 1690.0,1525.6 1692.0,1524.0 1694.4,1522.2 1696.8,1520.7 1699.0,1519.8 1699.2,1519.8 1701.6,1519.7 1704.0,1519.5 1706.4,1519.3 1707.0,1519.3 1708.8,1519.3 1711.2,1520.4 1713.6,1522.5 1715.0,1523.8 1716.0,1525.0 1718.4,1527.8 1720.8,1530.7 1722.0,1532.1 1723.2,1533.5 1725.6,1535.6 1728.0,1537.7 1730.0,1539.4 1730.4,1539.8 1732.8,1542.2 1735.0,1544.4 1735.0,1545.9 1732.8,1543.5 1730.4,1540.4 1730.0,1541.5 1728.0,1541.0 1725.6,1539.5 1723.2,1535.2 1722.0,1533.8 1720.8,1535.1 1718.4,1530.1 1716.0,1529.3 1715.0,1525.5 1713.6,1525.0 1711.2,1522.1 1708.8,1520.0 1707.0,1521.4 1706.4,1521.8 1704.0,1523.1 1701.6,1523.2 1699.2,1524.3 1699.0,1524.9 1696.8,1527.5 1694.4,1528.3 1692.0,1529.6 1690.0,1533.5 1689.6,1535.0 1687.2,1535.7 1684.8,1535.7 1684.0,1536.5 1682.4,1536.3 1680.0,1537.9 1677.6,1535.3 1675.2,1536.7 1672.8,1538.0 1672.0,1538.0 1670.4,1535.2 1668.0,1537.4 1666.0,1535.2 1665.6,1536.5 1663.2,1535.5 1660.8,1537.1 1660.0,1534.7 1658.4,1535.1 1656.0,1534.5 1653.6,1534.6 1651.2,1533.0 1650.0,1530.5 1648.8,1530.4 1646.4,1527.7 1644.0,1525.9 1641.6,1524.4 1640.0,1523.9 1639.2,1522.3 1636.8,1520.0 1636.0,1519.4 1634.4,1515.8 1633.0,1515.8 1632.0,1514.5 1631.0,1515.0 1629.6,1512.9 1629.0,1513.5 1627.2,1513.2 1625.0,1514.2 1624.8,1514.5 1622.4,1515.3 1621.0,1515.3 1620.0,1517.6 1618.0,1519.2 1617.6,1519.0 1615.2,1520.1 1615.0,1518.5 1612.8,1521.8 1611.0,1523.2 1610.4,1523.4 1608.0,1528.2 1605.6,1530.9 1604.0,1532.2 1603.2,1529.6 1602.0,1528.8 1600.8,1531.2 1599.0,1530.2 1598.4,1528.9 1596.0,1529.0 1593.6,1528.7 1592.0,1528.2 1591.2,1526.4 1588.8,1526.2 1587.0,1525.1 1586.4,1526.5 1584.0,1524.4 1583.0,1524.5 1581.6,1524.4 1579.2,1522.8 1578.0,1524.0 1576.8,1524.0 1574.4,1524.2 1572.0,1522.9 1569.6,1521.8 1567.2,1522.1 1564.8,1521.1 1564.0,1522.9 1562.4,1520.8 1560.0,1519.8 1557.6,1520.7 1556.0,1520.1 1555.2,1520.9 1552.8,1520.3 1551.0,1520.0 1550.4,1519.1 1548.0,1521.6 1547.0,1519.5 1545.6,1520.5 1545.0,1520.3 1543.2,1521.0 1542.8,1520.5 1541.0,1520.9 1540.8,1521.2 1538.4,1521.5 1538.0,1520.8 1536.0,1521.6 1533.6,1520.5 1533.0,1520.6 1531.2,1521.7 1528.8,1520.5 1528.0,1518.8 1526.4,1519.6 1524.7,1518.9 1524.0,1520.2 1521.6,1519.5 1520.0,1520.5 1519.2,1519.0 1516.8,1518.6 1514.4,1518.5 1514.0,1519.1 1512.0,1520.0 1510.0,1518.6 1509.6,1520.4 1507.2,1521.1 1506.0,1520.8 1504.8,1521.2 1503.0,1520.6 1502.4,1520.1 1500.0,1520.0 1497.6,1520.6 1497.0,1520.4 1495.2,1521.0 1493.6,1520.4 1492.8,1520.4 1490.4,1520.0 1490.0,1519.3 1488.0,1518.9 1485.6,1519.6 1483.2,1517.4 1482.0,1518.2 1480.8,1519.4 1478.4,1519.0 1476.0,1518.6 1473.6,1517.6 1471.2,1521.0 1471.0,1519.1 1468.8,1522.8 1466.4,1521.5 1466.0,1524.0 1464.0,1524.8 1461.6,1525.5 1459.2,1525.3 1458.0,1523.4 1456.8,1523.8 1454.4,1525.8 1452.0,1524.9 1449.6,1525.5 1447.2,1520.8 1445.0,1520.7 1444.8,1521.3 1442.4,1516.8 1440.0,1515.3" fill="#006aff" stroke="#006aff" stroke-width="3" stroke-linejoin="round"/>
<polyline points="138.0,1605.0 138.0,1738.0 139.9,1738.3 141.8,1738.3 143.6,1741.1 145.5,1741.6 147.4,1734.6 149.2,1733.0 151.1,1738.4 153.0,1740.5 154.8,1736.7 156.6,1743.6 158.5,1741.4 160.3,1739.5 162.1,1738.3 163.9,1739.1 165.7,1731.3 167.6,1734.8 169.4,1730.3 171.2,1740.1 173.0,1727.7 174.9,1737.7 176.7,1726.7 178.5,1734.6 180.3,1729.1 182.1,1729.5 184.0,1735.0 185.8,1722.9 187.6,1729.0 189.4,1722.5 191.2,1734.1 193.0,1728.0 194.8,1721.8 196.7,1734.0 198.5,1733.0 200.3,1721.0 202.1,1725.0 203.9,1720.6 205.7,1722.7 207.5,1726.6 209.3,1719.9 211.1,1727.0 212.9,1717.6 214.8,1718.9 216.6,1727.5 218.4,1721.3 220.2,1721.2 222.0,1722.0 223.9,1723.2 225.8,1721.3 227.8,1719.9 229.7,1714.8 231.6,1724.3 233.5,1727.5 235.4,1727.5 237.3,1723.0 239.2,1718.5 241.2,1718.4 243.1,1722.8 245.0,1720.0 246.8,1722.2 248.7,1714.2 250.5,1715.7 252.4,1717.3 254.2,1719.2 256.0,1723.1 257.9,1718.6 259.7,1711.8 261.6,1722.7 263.4,1717.0 265.2,1718.1 267.1,1713.7 268.9,1716.4 270.8,1715.6 272.6,1720.8 274.4,1711.2 276.3,1717.3 278.1,1711.9 280.0,1718.9 281.8,1709.5 283.6,1712.7 285.5,1713.4 287.3,1717.3 289.2,1708.9 291.0,1715.0 292.9,1715.4 294.7,1712.8 296.6,1714.8 298.5,1718.4 300.4,1726.1 302.2,1720.4 304.1,1728.0 306.0,1717.9 307.8,1729.4 309.7,1724.4 312.0,1729.3 314.3,1738.0 316.2,1734.8 318.0,1743.8 319.9,1747.3 321.7,1735.8 323.6,1740.7 325.4,1748.9 327.2,1744.0 329.1,1743.8 330.9,1741.7 332.8,1749.8 335.1,1747.1 337.4,1757.3 340.3,1761.5 343.2,1767.1 346.0,1770.6 348.9,1771.1 351.8,1771.7 354.7,1778.0 357.4,1779.2 360.1,1784.3 362.8,1786.9 365.5,1788.1 368.1,1787.9 370.8,1792.0 373.5,1794.0 376.2,1797.3 378.9,1798.8 381.7,1798.8 384.4,1804.2 387.2,1805.3 389.9,1802.3 392.7,1804.4 395.5,1809.3 398.2,1807.1 401.0,1812.5 403.7,1811.3 406.5,1812.6 409.3,1815.2 412.0,1816.6 414.8,1815.0 417.6,1816.8 420.4,1818.0 423.1,1822.0 425.9,1823.4 428.7,1821.4 431.4,1827.3 434.2,1826.4 436.9,1827.1 439.6,1827.2 442.3,1829.5 445.0,1833.9 447.6,1832.5 450.3,1834.1 453.0,1837.0 455.7,1838.4 458.4,1836.8 461.1,1838.6 463.7,1836.8 466.4,1838.1 469.0,1840.3 471.7,1839.8 474.4,1838.9 477.0,1837.7 479.7,1838.1 482.4,1840.6 485.0,1839.8 487.7,1836.8 490.3,1841.2 493.0,1840.2 495.7,1842.4 498.3,1841.5 501.0,1841.8 503.6,1841.6 506.3,1839.1 508.9,1840.4 511.6,1837.6 514.2,1835.7 516.9,1837.0 519.5,1836.5 522.2,1839.9 524.8,1838.2 527.5,1836.8 530.2,1836.6 532.8,1836.7 535.5,1833.3 538.1,1835.4 540.8,1836.0 543.5,1833.8 546.1,1832.5 548.8,1833.0 551.5,1832.1 554.1,1833.9 556.8,1830.3 559.4,1829.5 562.1,1831.6 564.8,1829.9 567.4,1831.7 570.1,1831.6 572.7,1830.4 575.4,1831.6 578.0,1827.6 580.7,1825.1 583.3,1827.3 586.0,1826.5 588.6,1824.4 591.3,1826.8 593.9,1824.3 596.6,1824.7 599.3,1821.8 602.0,1821.0 604.7,1823.3 607.4,1816.4 610.0,1817.1 612.7,1815.3 615.4,1813.5 618.1,1813.5 620.8,1812.6 623.6,1809.4 626.3,1812.0 629.1,1807.9 631.9,1807.5 634.6,1802.8 637.4,1803.0 640.2,1802.3 643.0,1802.2 645.7,1797.1 648.5,1797.0 651.2,1795.7 653.8,1797.0 656.5,1795.8 659.1,1791.1 661.8,1791.9 664.4,1792.2 667.1,1788.9 669.7,1789.5 672.4,1788.4 675.0,1789.2 677.7,1785.6 680.3,1785.3 683.0,1783.2 685.8,1782.0 688.7,1783.9 691.5,1781.1 694.3,1781.9 697.2,1780.7 700.0,1781.2 703.0,1779.0 705.9,1776.8 708.9,1775.7 711.8,1775.5 714.8,1772.9 717.7,1770.6 720.7,1770.9 723.4,1771.7 726.1,1769.3 728.8,1771.5 731.5,1769.7 734.1,1768.5 736.8,1770.1 739.5,1769.8 742.2,1767.1 744.9,1767.4 747.7,1768.0 750.5,1772.1 753.2,1775.0 756.0,1776.2 758.8,1777.8 762.2,1779.5 765.7,1778.6 769.1,1779.5 772.6,1786.3 776.0,1791.2 779.5,1798.5 783.0,1788.3 786.4,1778.4 789.9,1769.1 792.7,1765.5 795.4,1762.5 798.2,1761.0 800.9,1755.4 803.7,1753.6 806.5,1752.4 809.2,1752.6 812.0,1755.5 814.7,1753.7 817.5,1753.6 821.0,1754.4 824.4,1758.8 827.9,1752.1 831.3,1744.2 834.8,1734.6 837.8,1734.6 840.7,1731.5 843.7,1731.8 846.6,1728.9 849.6,1726.9 852.5,1728.6 855.5,1725.9 858.2,1726.3 860.8,1722.9 863.5,1724.6 866.1,1720.3 868.8,1720.5 871.5,1718.4 874.1,1718.1 876.8,1717.1 879.5,1718.4 882.1,1715.8 884.8,1714.4 887.4,1713.5 890.1,1713.8 892.8,1712.5 895.4,1714.2 898.1,1712.6 900.7,1710.1 903.4,1711.9 906.1,1710.8 908.7,1709.9 911.4,1709.7 914.1,1709.6 916.7,1709.7 919.4,1708.0 922.0,1708.0 924.7,1706.9 927.4,1706.6 930.2,1707.1 932.9,1705.9 935.6,1705.8 938.3,1706.1 941.1,1706.7 943.8,1704.8 946.5,1707.2 949.2,1705.3 952.0,1706.5 954.7,1705.7 957.4,1706.6 960.1,1705.3 962.9,1704.1 965.6,1703.8 968.3,1704.5 971.0,1704.9 973.8,1705.0 976.5,1703.5 979.2,1701.5 982.0,1700.7 984.8,1700.4 987.5,1699.8 990.2,1699.2 993.0,1698.5 995.8,1699.0 998.5,1698.0 1001.2,1699.7 1004.0,1698.5 1006.7,1698.3 1009.3,1699.0 1012.0,1698.4 1014.6,1696.8 1017.3,1697.0 1019.9,1692.6 1022.6,1692.8 1025.2,1694.9 1027.9,1692.4 1030.5,1690.7 1033.2,1692.3 1035.8,1690.3 1038.5,1689.9 1041.5,1691.1 1044.4,1691.1 1047.4,1691.8 1050.3,1692.2 1053.3,1695.3 1056.2,1697.6 1059.2,1696.8 1062.0,1697.4 1064.7,1695.1 1067.5,1694.4 1070.2,1690.7 1073.0,1689.9 1075.9,1689.4 1078.8,1692.2 1081.7,1691.2 1084.5,1691.7 1087.4,1689.4 1090.3,1691.6 1093.8,1694.0 1097.3,1698.5 1104.4,1720.7 1109.6,1769.1 1114.8,1821.0 1120.0,1855.5 1123.4,1821.0 1126.9,1777.8 1130.3,1803.7 1139.0,1776.0 1144.2,1755.3 1149.1,1702.0 1163.0,1667.4 1166.0,1664.5 1168.9,1663.8 1171.9,1661.9 1174.8,1658.6 1177.8,1652.5 1180.7,1650.2 1183.7,1648.4 1186.6,1652.7 1189.5,1655.2 1192.3,1652.6 1195.2,1651.7 1198.1,1656.6 1201.0,1657.0 1203.9,1656.4 1206.8,1654.2 1209.7,1652.2 1212.5,1652.6 1215.4,1653.6 1218.3,1651.8 1221.4,1651.9 1224.5,1658.4 1227.6,1664.8 1230.7,1666.2 1233.8,1667.4 1237.2,1643.8 1240.7,1624.2 1243.3,1635.6 1246.0,1648.4 1249.4,1643.5 1252.9,1646.8 1256.3,1643.2 1259.0,1646.3 1261.8,1644.7 1264.5,1649.8 1267.3,1652.3 1270.0,1653.6 1272.9,1654.2 1275.8,1652.6 1278.7,1652.1 1281.6,1652.4 1284.5,1657.6 1287.4,1653.6 1290.1,1654.7 1292.8,1658.6 1295.5,1660.7 1298.3,1660.9 1301.0,1665.2 1303.7,1666.1 1306.4,1670.9 1309.5,1667.4 1312.6,1665.7 1315.8,1663.5 1318.9,1666.1 1322.0,1660.5 1324.7,1659.5 1327.4,1660.3 1330.1,1663.5 1332.8,1662.0 1335.4,1663.5 1338.1,1665.1 1340.8,1661.1 1343.5,1666.5 1346.2,1665.7 1349.1,1660.2 1351.9,1659.1 1354.8,1661.2 1357.7,1660.3 1360.5,1655.5 1363.4,1651.8 1366.2,1649.4 1368.9,1651.7 1371.7,1650.6 1374.5,1655.2 1377.2,1650.6 1380.0,1650.4 1382.8,1654.2 1385.6,1654.3 1388.3,1654.1 1391.1,1653.6 1393.9,1658.3 1396.7,1667.0 1399.4,1667.8 1402.2,1674.7 1405.0,1677.8 1408.0,1678.4 1410.9,1679.6 1413.9,1680.2 1416.8,1682.6 1419.8,1683.7 1422.7,1682.7 1425.7,1684.7 1428.6,1687.1 1431.5,1690.2 1434.3,1691.6 1437.2,1694.5 1440.1,1696.7 1443.0,1698.5 1446.2,1703.6 1449.4,1706.9 1452.2,1713.9 1454.9,1721.4 1457.7,1727.9 1460.4,1738.9 1463.2,1745.0 1466.0,1750.3 1468.7,1752.8 1471.5,1759.3 1474.2,1763.2 1477.0,1765.7 1479.6,1770.4 1482.2,1779.1 1484.8,1783.5 1487.4,1789.9 1490.8,1801.2 1494.3,1814.0 1497.2,1815.4 1500.1,1818.3 1503.0,1821.0 1506.1,1815.7 1509.2,1812.3 1512.3,1809.1 1515.4,1806.4 1518.5,1803.7 1521.3,1802.0 1524.0,1801.5 1526.8,1804.0 1529.5,1801.9 1532.3,1802.0 1535.1,1802.3 1537.9,1803.1 1540.6,1804.8 1543.4,1801.9 1546.2,1803.7 1549.6,1803.2 1553.1,1806.3 1556.5,1805.4 1559.1,1804.9 1561.7,1802.8 1564.3,1799.1 1566.9,1796.8 1569.7,1792.1 1572.4,1787.2 1575.2,1786.0 1577.9,1781.2 1580.7,1776.0 1583.5,1770.0 1586.3,1764.8 1589.0,1756.4 1591.8,1751.3 1594.6,1745.0 1597.2,1746.2 1599.8,1742.5 1602.4,1744.1 1605.0,1743.2 1608.4,1736.8 1611.9,1734.2 1615.3,1727.7 1618.1,1725.9 1620.8,1722.0 1623.6,1718.1 1626.3,1713.3 1629.1,1712.1 1631.9,1715.2 1634.7,1717.8 1637.4,1721.1 1640.2,1722.9 1643.0,1727.7 1645.8,1737.0 1648.5,1743.0 1651.3,1750.7 1654.0,1759.5 1656.8,1765.7 1659.6,1768.0 1662.3,1767.3 1665.1,1767.9 1667.8,1769.8 1670.6,1769.1 1673.5,1770.0 1676.4,1773.6 1679.2,1771.5 1682.1,1776.1 1685.0,1776.5 1687.9,1777.8 1691.4,1776.6 1694.8,1776.3 1698.3,1772.6 1701.1,1776.3 1703.8,1781.9 1706.6,1788.3 1709.3,1792.9 1712.1,1796.8 1715.1,1800.4 1718.0,1804.8 1721.0,1807.9 1723.9,1812.1 1726.9,1814.7 1729.8,1817.0 1732.8,1821.0 1735.4,1827.9 1738.0,1834.9 1740.6,1844.3 1743.2,1852.1 1750.1,1907.4 1753.6,2018.8 1764.4,2083.7 1769.6,2152.8 1773.1,2280.0 1776.5,2600.0 1863.0,2600.0 1871.6,2260.0 1876.8,2152.8 1882.0,2049.0 1887.2,1980.0 1892.3,1907.4 1902.7,1838.3 1905.5,1825.0 1908.2,1813.0 1911.0,1804.9 1913.7,1789.8 1916.5,1779.5 1919.4,1773.0 1922.3,1764.2 1925.2,1760.6 1928.0,1752.0 1930.9,1743.6 1933.8,1738.0 1936.7,1735.9 1939.6,1732.5 1942.4,1729.6 1945.3,1723.1 1948.2,1720.4 1951.1,1717.3 1953.7,1716.2 1956.3,1713.0 1958.9,1712.4 1961.5,1710.4 1964.9,1712.3 1968.4,1713.7 1971.8,1713.8 1974.6,1713.4 1977.4,1711.4 1980.1,1707.8 1982.9,1707.9 1985.7,1705.2 1988.5,1704.2 1991.2,1702.5 1994.0,1701.2 1996.7,1702.9 1999.5,1701.7 2002.5,1703.1 2005.4,1704.0 2008.4,1707.6 2011.3,1709.3 2014.3,1710.9 2017.2,1713.9 2020.2,1715.6 2023.0,1714.7 2025.7,1713.6 2028.5,1714.4 2031.2,1713.1 2034.0,1710.4 2037.0,1710.0 2040.1,1712.7 2043.2,1710.9 2046.2,1712.1 2054.8,1727.7 2061.7,1789.9 2068.6,1793.3 2079.0,1751.8 2087.6,1824.4 2092.8,1793.3 2101.4,1845.2 2106.6,1810.6 2113.6,1802.0 2120.5,1781.2 2127.4,1796.8 2132.6,1855.5 2137.8,2000.0 2143.0,2152.8 2146.4,2280.0 2148.0,2600.0 2163.7,2600.0 2163.7,2280.0 2165.4,2000.0 2170.6,1872.8 2177.5,1807.2 2186.2,1827.9 2193.1,1855.5 2196.5,1907.4 2198.3,2000.0 2200.0,2600.0 2205.2,2600.0 2205.2,1607.0 2236.0,1607.0" fill="none" stroke="#ff0000" stroke-width="7.8" stroke-linejoin="round" stroke-linecap="butt" />
<polyline points="138.0,1744.0 138.0,1880.0 139.9,1880.5 141.8,1877.2 143.6,1884.6 145.5,1885.1 147.4,1888.3 149.2,1878.3 151.1,1879.5 153.0,1884.4 154.9,1877.4 156.9,1877.4 158.8,1884.2 160.7,1873.2 162.7,1878.3 164.6,1876.5 166.5,1870.9 168.4,1871.2 170.3,1872.5 172.2,1878.0 174.1,1873.3 176.0,1870.6 177.9,1862.1 179.8,1865.5 181.8,1862.6 183.7,1873.5 185.6,1871.7 187.5,1870.9 189.4,1870.5 191.3,1868.4 193.2,1870.9 195.2,1867.6 197.1,1858.3 199.0,1861.4 200.9,1866.7 202.8,1860.6 204.7,1864.6 206.6,1861.2 208.5,1858.7 210.5,1857.4 212.4,1858.1 214.3,1855.9 216.2,1852.5 218.1,1863.4 220.0,1858.0 222.2,1849.5 224.5,1831.4 226.8,1856.8 228.6,1864.8 230.5,1860.3 232.3,1858.3 234.2,1861.7 236.0,1852.1 237.8,1860.9 239.7,1857.4 241.5,1853.4 243.4,1854.0 245.2,1859.0 247.1,1859.8 249.0,1855.8 250.9,1859.5 252.9,1862.3 254.8,1859.3 256.7,1855.4 258.6,1861.6 260.5,1857.9 262.4,1858.3 264.4,1858.0 266.3,1861.2 268.2,1863.7 270.2,1855.9 272.1,1864.1 274.1,1868.0 276.1,1858.0 278.1,1862.3 280.0,1864.7 282.0,1856.8 283.9,1845.3 285.7,1842.7 287.6,1849.2 289.4,1845.6 291.3,1836.0 293.6,1849.8 295.9,1853.6 298.2,1870.6 300.1,1867.7 302.0,1873.4 303.9,1872.2 305.9,1869.3 307.8,1858.2 309.7,1861.4 312.0,1879.7 314.3,1886.7 316.2,1887.4 318.2,1895.6 320.1,1889.0 322.0,1905.0 324.0,1901.9 325.9,1902.9 328.8,1911.1 331.6,1910.4 334.5,1917.4 337.4,1921.3 340.3,1923.5 343.1,1925.3 346.0,1925.6 348.9,1928.2 351.8,1931.7 354.7,1931.4 357.6,1933.3 360.4,1934.6 363.3,1939.8 366.2,1938.5 369.1,1941.3 372.0,1945.0 374.9,1942.2 377.7,1945.5 380.6,1944.8 383.5,1944.6 386.3,1941.4 389.2,1944.0 392.1,1945.9 395.0,1947.7 397.9,1948.5 400.7,1950.2 403.6,1958.5 406.5,1957.8 409.2,1956.9 411.9,1959.3 414.6,1960.4 417.3,1963.8 419.9,1962.0 422.6,1965.7 425.3,1966.4 428.0,1970.6 430.7,1969.9 433.5,1966.2 436.2,1967.5 439.0,1967.8 441.8,1970.0 444.5,1966.6 447.3,1965.6 450.1,1966.1 452.9,1963.2 455.6,1960.9 458.4,1963.0 461.1,1963.1 463.7,1965.7 466.4,1964.8 469.0,1962.1 471.7,1964.8 474.4,1965.9 477.0,1962.5 479.7,1964.6 482.4,1963.3 485.0,1962.8 487.7,1963.2 490.3,1962.8 493.0,1964.7 495.7,1963.4 498.3,1961.1 501.0,1962.9 503.6,1960.6 506.3,1964.2 508.9,1962.9 511.6,1958.9 514.2,1963.1 516.9,1959.2 519.5,1960.6 522.2,1960.6 524.8,1958.9 527.5,1959.5 530.2,1958.0 532.8,1958.6 535.5,1956.5 538.1,1960.6 540.8,1955.8 543.5,1959.8 546.1,1955.9 548.8,1956.2 551.5,1956.4 554.1,1954.0 556.8,1954.3 559.4,1955.4 562.1,1956.0 564.8,1955.4 567.6,1957.7 570.3,1958.1 573.0,1952.2 575.8,1954.9 578.5,1952.2 581.2,1955.9 584.0,1952.8 586.7,1955.9 589.4,1953.6 592.1,1950.8 594.9,1949.8 597.6,1951.0 600.3,1954.5 603.1,1949.9 605.8,1951.6 608.5,1950.7 611.3,1950.2 614.0,1950.9 616.7,1951.6 619.3,1947.0 622.0,1949.0 624.6,1947.6 627.3,1948.2 629.9,1944.6 632.6,1945.9 635.2,1942.0 637.9,1941.7 640.5,1940.9 643.2,1941.2 645.8,1940.5 648.5,1937.0 651.2,1933.9 653.8,1933.2 656.5,1934.8 659.1,1935.7 661.8,1933.2 664.4,1931.0 667.1,1934.2 669.7,1929.4 672.4,1927.4 675.0,1926.4 677.7,1925.5 680.3,1928.9 683.0,1926.7 685.8,1924.3 688.7,1927.9 691.5,1928.7 694.3,1929.5 697.2,1928.3 700.0,1926.4 703.0,1924.9 705.9,1924.4 708.9,1924.0 711.8,1922.3 714.8,1919.4 717.7,1920.1 720.7,1917.8 723.7,1916.2 726.6,1917.0 729.6,1919.8 732.6,1917.7 735.6,1916.9 738.5,1918.9 741.5,1917.8 744.5,1919.3 747.4,1919.3 750.4,1921.1 753.3,1923.8 756.3,1925.8 759.2,1929.9 762.2,1929.9 765.7,1931.8 769.1,1937.0 772.6,1938.5 776.0,1947.7 779.5,1954.0 783.0,1940.4 786.4,1929.5 789.9,1914.3 792.7,1911.9 795.4,1907.3 798.2,1903.0 800.9,1900.3 803.7,1897.0 806.5,1899.6 809.2,1899.2 812.0,1898.9 814.7,1900.7 817.5,1902.2 820.1,1904.7 822.7,1907.4 825.6,1898.1 828.5,1891.6 831.4,1883.2 834.2,1879.3 836.9,1880.3 839.7,1875.7 842.4,1873.3 845.2,1872.8 847.9,1872.2 850.5,1870.2 853.2,1871.5 855.8,1869.1 858.5,1868.2 861.1,1868.6 863.8,1865.1 866.4,1866.3 869.1,1865.0 871.7,1863.2 874.4,1864.4 877.0,1859.7 879.7,1860.7 882.3,1861.8 885.0,1858.7 887.6,1861.1 890.3,1858.1 892.9,1857.4 895.6,1858.9 898.2,1860.3 900.9,1857.3 903.5,1857.9 906.2,1858.1 908.8,1856.3 911.5,1857.2 914.1,1854.8 916.8,1856.2 919.4,1857.2 922.1,1855.2 924.7,1855.5 927.6,1855.0 930.5,1854.9 933.4,1858.1 936.2,1857.5 939.1,1860.1 942.0,1859.0 944.7,1859.2 947.3,1855.8 950.0,1858.3 952.6,1857.5 955.3,1856.3 957.9,1855.5 960.6,1854.1 963.2,1853.5 965.9,1852.5 968.5,1851.4 971.2,1849.2 973.8,1847.9 976.5,1848.6 979.2,1848.8 982.0,1847.5 984.7,1844.6 987.4,1846.3 990.2,1845.4 992.9,1844.3 995.6,1844.6 998.4,1844.3 1001.1,1841.6 1003.8,1842.6 1006.5,1840.6 1009.3,1840.2 1012.0,1838.8 1014.7,1840.2 1017.5,1837.5 1020.2,1838.8 1022.9,1835.6 1025.7,1836.2 1028.4,1834.8 1031.3,1836.5 1034.2,1835.5 1037.1,1834.3 1039.9,1833.1 1042.8,1834.7 1045.7,1834.8 1048.5,1835.1 1051.2,1837.4 1054.0,1838.0 1056.7,1839.5 1059.5,1838.0 1062.3,1838.6 1065.0,1839.9 1067.8,1841.3 1070.5,1839.3 1073.3,1841.7 1075.9,1838.4 1078.5,1835.9 1081.1,1834.5 1083.7,1833.0 1086.5,1833.9 1089.2,1838.4 1092.0,1837.1 1094.7,1841.7 1097.5,1841.7 1106.2,1859.0 1111.3,1907.4 1116.5,1959.3 1120.0,1985.2 1123.4,1959.3 1126.9,1919.5 1132.0,1942.0 1139.0,1921.2 1145.9,1872.8 1156.3,1838.3 1159.1,1831.4 1161.8,1822.8 1164.6,1815.2 1167.3,1814.4 1170.1,1803.7 1172.9,1796.3 1175.6,1792.3 1178.4,1788.3 1181.1,1783.7 1183.9,1783.0 1186.8,1782.1 1189.7,1780.7 1192.6,1780.3 1195.4,1779.1 1198.3,1784.6 1201.2,1783.0 1204.0,1777.7 1206.7,1777.4 1209.5,1778.3 1212.2,1779.1 1215.0,1774.3 1217.6,1781.6 1220.2,1788.1 1222.8,1794.1 1225.4,1798.5 1230.6,1776.0 1234.0,1766.7 1237.3,1755.5 1240.7,1741.0 1243.4,1752.3 1246.1,1769.1 1248.9,1766.9 1251.7,1772.8 1254.4,1773.4 1257.2,1774.8 1260.0,1776.0 1263.4,1784.0 1266.9,1784.9 1270.3,1793.3 1273.5,1793.8 1276.8,1790.4 1280.0,1789.9 1282.9,1789.0 1285.7,1787.3 1288.6,1787.4 1291.4,1789.5 1294.3,1789.0 1297.1,1791.6 1300.0,1788.1 1302.9,1784.6 1305.8,1786.4 1308.8,1779.7 1311.7,1782.4 1314.6,1779.5 1317.5,1776.2 1320.4,1781.2 1323.2,1781.5 1326.1,1775.2 1329.0,1779.0 1331.9,1776.0 1334.7,1778.6 1337.4,1784.1 1340.2,1787.3 1342.9,1794.9 1345.7,1800.2 1349.1,1789.6 1352.6,1786.9 1356.0,1777.8 1358.8,1780.0 1361.5,1780.3 1364.3,1784.1 1367.1,1781.9 1369.8,1784.2 1372.6,1786.0 1375.4,1784.7 1378.2,1793.3 1380.9,1788.5 1383.7,1793.3 1387.2,1793.6 1390.6,1802.6 1394.1,1803.7 1397.5,1817.8 1401.0,1826.5 1404.4,1838.3 1407.3,1841.3 1410.2,1843.0 1413.1,1845.7 1415.9,1852.2 1418.8,1854.0 1421.7,1859.0 1424.6,1858.6 1427.5,1864.9 1430.3,1861.3 1433.2,1865.1 1436.1,1869.2 1439.0,1869.4 1441.8,1875.7 1444.5,1876.7 1447.3,1885.4 1450.0,1889.1 1452.8,1893.6 1455.6,1899.9 1458.4,1907.3 1461.1,1912.0 1463.9,1916.3 1466.7,1921.2 1469.6,1925.7 1472.5,1926.9 1475.3,1930.2 1478.2,1934.6 1481.1,1936.3 1484.0,1938.5 1486.9,1936.0 1489.7,1932.2 1492.6,1935.0 1495.5,1930.6 1498.3,1929.4 1501.2,1928.1 1504.0,1922.0 1506.7,1918.8 1509.5,1913.0 1512.2,1910.8 1515.0,1904.0 1517.8,1904.6 1520.6,1904.4 1523.3,1905.7 1526.1,1903.6 1528.9,1904.0 1531.7,1901.1 1534.4,1899.3 1537.2,1896.0 1539.9,1893.0 1542.7,1888.4 1545.5,1890.4 1548.2,1888.1 1551.0,1887.7 1553.7,1885.2 1556.5,1886.7 1559.3,1879.6 1562.1,1875.2 1564.8,1870.1 1567.6,1866.9 1570.4,1859.0 1573.2,1852.1 1575.9,1849.8 1578.7,1848.0 1581.4,1842.2 1584.2,1838.3 1587.0,1837.6 1589.7,1830.7 1592.5,1831.6 1595.2,1826.8 1598.0,1824.4 1601.5,1835.2 1605.0,1845.2 1608.4,1836.8 1611.9,1833.2 1615.3,1828.0 1618.4,1827.0 1621.5,1823.8 1624.6,1820.0 1627.7,1816.3 1630.8,1814.0 1633.8,1815.6 1636.9,1823.9 1640.0,1826.7 1643.0,1831.4 1645.9,1839.0 1648.7,1844.5 1651.6,1849.5 1654.4,1858.5 1657.3,1862.5 1659.9,1863.7 1662.5,1872.2 1665.1,1870.4 1667.7,1876.3 1670.6,1880.3 1673.5,1879.1 1676.3,1879.4 1679.2,1883.5 1682.1,1882.1 1685.0,1883.2 1687.8,1882.6 1690.5,1879.2 1693.3,1882.9 1696.0,1881.2 1698.8,1879.7 1701.6,1883.7 1704.3,1888.5 1707.1,1895.8 1709.8,1904.5 1712.6,1907.4 1715.4,1917.9 1718.1,1923.8 1720.9,1929.5 1723.6,1942.6 1726.4,1948.9 1729.9,1964.1 1733.3,1984.4 1736.8,2000.0 1743.7,2049.0 1750.6,2152.8 1757.5,2280.0 1773.0,2400.0 1776.0,2600.0 1869.9,2600.0 1880.2,2280.0 1888.9,2187.4 1902.7,2049.0 1906.2,2024.5 1909.6,2000.0 1913.1,1980.0 1916.5,1955.8 1919.4,1949.6 1922.3,1938.3 1925.2,1932.8 1928.0,1924.4 1930.9,1913.5 1933.8,1907.4 1936.7,1904.2 1939.6,1899.7 1942.4,1897.8 1945.3,1895.4 1948.2,1890.8 1951.1,1886.7 1954.1,1885.2 1957.0,1884.1 1960.0,1881.2 1962.9,1880.6 1965.9,1877.7 1968.8,1878.7 1971.8,1876.3 1974.6,1871.8 1977.4,1870.9 1980.1,1866.7 1982.9,1865.5 1985.7,1862.5 1988.5,1858.6 1991.2,1856.4 1994.0,1856.8 1996.7,1855.1 1999.5,1852.1 2002.4,1855.7 2005.3,1856.8 2008.2,1860.1 2011.0,1858.7 2013.9,1862.7 2016.8,1864.2 2019.6,1864.0 2022.3,1861.5 2025.1,1860.7 2027.8,1860.4 2030.6,1860.7 2033.4,1861.5 2036.1,1863.2 2038.9,1863.6 2041.6,1863.8 2044.4,1864.2 2047.3,1865.4 2050.1,1869.9 2053.0,1872.8 2058.3,1914.3 2065.2,1945.4 2079.0,1907.4 2085.9,1969.6 2092.8,1945.4 2101.4,1997.3 2110.1,1955.8 2122.2,1924.7 2130.8,1962.7 2134.3,2000.0 2140.0,2152.0 2144.7,2280.0 2146.0,2600.0 2160.0,2600.0 2165.4,2280.0 2168.9,2152.8 2174.0,1980.0 2179.2,1938.5 2186.2,1928.1 2193.1,1962.7 2196.5,2000.0 2198.3,2187.4 2200.0,2600.0 2205.2,2600.0 2205.2,1748.0 2236.0,1748.0" fill="none" stroke="#00dd00" stroke-width="7.8" stroke-linejoin="round" stroke-linecap="butt" />
<polyline points="138.0,1935.0 138.0,2062.5 141.0,2066.8" fill="none" stroke="#ff00ff" stroke-width="7.8" stroke-linejoin="round" stroke-linecap="butt" />
<polyline points="419.0,2183.8 421.0,2185.7 423.2,2181.1 425.3,2192.4 427.5,2193.3 429.6,2199.6 431.8,2190.7 434.0,2192.1 436.1,2201.5 438.3,2199.5 441.2,2201.9 444.0,2200.2 446.9,2204.4 449.8,2203.3 452.6,2207.5 455.5,2206.4 458.1,2204.0 460.7,2205.5 463.3,2211.6 465.9,2207.9 468.5,2207.7 471.1,2212.7 473.7,2212.0 476.3,2211.6 479.2,2207.9 482.1,2210.3 485.0,2210.3 487.8,2205.5 490.7,2208.5 493.6,2206.4 496.5,2203.7 499.4,2205.7 502.2,2203.9 505.1,2205.2 508.0,2211.6 510.9,2208.1 513.7,2205.3 516.4,2207.9 519.2,2201.4 521.9,2200.7 524.7,2197.8 527.4,2199.6 530.1,2197.0 532.8,2191.2 535.5,2193.9 538.1,2193.1 540.8,2188.3 543.5,2186.5 546.2,2191.6 548.9,2187.4 551.7,2187.0 554.4,2183.9 557.2,2185.5 559.9,2183.1 562.7,2187.2 565.5,2184.3 568.2,2180.6 571.0,2185.8 573.7,2179.4 576.5,2182.2 579.2,2179.7 581.9,2176.9 584.6,2181.8 587.3,2176.0 589.9,2178.6 592.6,2174.3 595.3,2176.7 598.0,2177.5 600.7,2175.3 603.7,2174.1 606.6,2172.0 609.6,2170.8 612.6,2168.9 615.6,2168.7 618.5,2163.2 621.5,2165.0 624.2,2162.7 626.9,2158.7 629.6,2161.6 632.3,2160.1 634.9,2151.0 637.6,2149.5 640.3,2151.8 643.0,2148.7 645.7,2146.0 648.5,2140.8 651.2,2144.9 654.0,2145.4 656.7,2139.8 659.5,2137.8 662.3,2138.2 665.0,2139.8 667.8,2133.0 670.5,2131.9 673.3,2132.1 676.0,2128.7 678.6,2131.3 681.3,2129.1 684.0,2126.5 686.6,2126.7 689.3,2122.9 692.0,2124.2 694.7,2128.7 697.3,2124.6 700.0,2123.0 702.7,2120.9 705.3,2122.3 708.0,2118.8 710.6,2117.2 713.3,2115.1 716.0,2114.4 718.6,2113.4 721.3,2112.3 724.0,2113.7 726.6,2110.1 729.3,2108.8 731.9,2109.0 734.6,2107.4 737.3,2107.9 739.9,2104.2 742.6,2104.8 745.2,2102.1 747.9,2101.6 750.5,2100.6 753.2,2100.8 755.8,2098.8 758.5,2096.6 761.1,2096.8 763.8,2093.7 766.4,2092.5 769.1,2091.8 771.9,2092.4 774.6,2089.6 777.4,2089.3 780.2,2086.2 783.0,2087.4 785.7,2085.0 788.5,2082.3 791.3,2083.9 794.0,2080.8 796.8,2079.7 799.5,2078.5 802.2,2077.6 804.9,2076.4 807.6,2076.2 810.2,2077.6 812.9,2074.9 815.6,2074.8 818.3,2075.0 821.0,2074.6 823.7,2073.7 826.3,2072.0 829.0,2072.5 831.6,2069.4 834.3,2068.7 836.9,2067.9 839.6,2065.6 842.2,2064.9 844.9,2063.6 847.5,2064.8 850.2,2061.4 852.8,2062.4 855.5,2060.7 858.2,2058.5 860.8,2059.2 863.5,2058.1 866.1,2055.9 868.8,2057.1 871.5,2055.0 874.1,2053.5 876.8,2050.4 879.5,2050.8 882.1,2049.1 884.8,2048.9 887.4,2049.7 890.1,2046.9 893.0,2047.5 895.9,2043.4 898.8,2045.0 901.6,2045.2 904.5,2042.7 907.4,2041.7 910.1,2040.2 912.7,2043.4 915.4,2041.8 918.0,2044.1 920.7,2043.9 923.4,2043.8 926.0,2044.3 928.7,2041.0 931.4,2044.1 934.0,2042.2 936.7,2041.7 939.3,2042.8 942.0,2043.4 944.7,2043.0 947.3,2039.8 950.0,2040.8 952.6,2041.4 955.3,2039.4 957.9,2038.8 960.6,2037.0 963.2,2038.9 965.9,2035.3 968.5,2036.2 971.2,2035.3 973.8,2031.9 976.5,2033.1 979.2,2034.7 981.8,2031.2 984.5,2033.9 987.1,2033.2 989.8,2032.7 992.4,2032.1 995.1,2029.9 997.7,2029.7 1000.4,2028.9 1003.0,2030.8 1005.7,2026.8 1008.3,2026.8 1011.0,2027.9 1013.7,2028.8 1016.3,2027.3 1019.0,2025.9 1021.7,2026.0 1024.3,2023.3 1027.0,2023.7 1029.7,2021.2 1032.4,2022.1 1035.0,2017.8 1037.7,2018.3 1040.4,2018.0 1043.0,2017.9 1045.7,2015.8 1048.7,2016.5 1051.6,2018.5 1054.6,2020.6 1057.5,2019.4 1060.5,2019.5 1063.4,2019.8 1066.4,2022.7 1069.3,2022.7 1072.2,2019.7 1075.1,2017.9 1077.9,2017.0 1080.8,2013.9 1083.7,2014.0 1086.5,2014.3 1089.2,2015.7 1092.0,2017.2 1094.7,2021.0 1097.5,2021.0 1107.9,2038.3 1120.0,2053.8 1132.0,2029.6 1140.7,2029.6 1149.4,2010.6 1159.7,2000.2 1162.7,1991.3 1165.8,1983.1 1168.8,1982.4 1171.8,1972.6 1174.4,1971.3 1177.0,1965.4 1179.6,1968.8 1182.2,1967.2 1184.8,1965.1 1187.4,1962.2 1190.1,1965.0 1192.8,1962.7 1195.5,1961.7 1198.2,1966.5 1200.8,1966.1 1203.5,1967.3 1206.2,1963.7 1208.9,1965.8 1211.6,1967.4 1214.5,1967.2 1217.4,1963.0 1220.2,1963.0 1223.1,1960.3 1226.0,1960.8 1228.9,1957.0 1234.0,1977.8 1237.5,1961.9 1241.0,1948.4 1244.1,1953.2 1247.2,1960.7 1250.3,1961.4 1253.4,1965.2 1256.5,1972.6 1259.3,1974.2 1262.2,1970.6 1265.0,1976.9 1267.8,1972.7 1270.6,1978.2 1273.5,1975.7 1276.3,1973.1 1279.1,1976.6 1281.9,1978.3 1284.8,1977.2 1287.6,1977.8 1290.7,1975.4 1293.8,1969.9 1296.9,1971.1 1300.0,1964.0 1303.0,1960.0 1306.0,1963.6 1309.0,1956.1 1312.0,1958.6 1315.0,1953.7 1318.0,1955.8 1320.8,1953.6 1323.7,1958.1 1326.5,1961.4 1329.3,1957.4 1332.1,1958.9 1335.0,1960.3 1337.8,1962.1 1340.6,1960.9 1343.4,1961.6 1346.3,1966.4 1349.1,1964.4 1351.9,1965.9 1354.8,1965.4 1357.6,1970.2 1360.4,1972.8 1363.2,1969.4 1366.1,1967.1 1368.9,1970.5 1371.7,1976.4 1374.5,1971.7 1377.4,1973.0 1380.2,1976.5 1383.1,1980.6 1386.0,1976.9 1388.8,1984.5 1391.7,1981.3 1394.6,1984.4 1397.5,1987.0 1399.8,1991.4 1402.1,1986.6 1404.4,1998.0 1406.4,2004.4 1408.3,1998.5 1410.2,2006.0 1412.2,2006.8 1414.2,1993.9 1416.1,2009.7 1418.0,2010.5 1420.0,2005.0 1422.2,1996.4 1424.3,1999.9 1426.4,1988.7 1428.6,1991.1 1430.6,1995.8 1432.6,2004.1 1434.6,2000.5 1436.5,2007.6 1438.5,2003.5 1440.5,2022.1 1442.5,2018.8 1444.4,2023.2 1446.3,2029.2 1448.2,2016.1 1450.1,2031.4 1452.1,2020.2 1454.0,2031.4 1455.9,2026.8 1457.8,2042.1 1459.7,2036.0 1461.8,2032.3 1463.9,2043.8 1465.9,2047.9 1468.0,2050.4 1470.1,2056.8 1472.2,2054.3 1474.3,2072.6 1476.3,2084.9 1478.4,2078.9 1480.5,2087.9 1482.0,2075.1" fill="none" stroke="#ff00ff" stroke-width="7.8" stroke-linejoin="round" stroke-linecap="butt" />
<polyline points="1559.0,2080.1 1563.0,2056.7 1574.6,2047.5 1576.5,2046.0 1578.4,2044.4 1580.3,2033.4 1582.2,2046.2 1584.1,2043.4 1586.0,2038.2 1588.4,2006.0 1590.0,2025.8" fill="none" stroke="#ff00ff" stroke-width="7.8" stroke-linejoin="round" stroke-linecap="butt" />
<polyline points="1663.0,2044.1 1664.8,2046.1 1666.7,2067.0 1669.0,2064.2 1671.3,2055.3 1673.6,2044.0 1675.9,2067.8 1678.2,2070.5 1680.1,2056.9 1682.1,2048.5 1684.0,2046.3 1686.3,2067.5 1688.6,2077.4 1690.4,2076.8 1692.3,2063.9 1694.1,2068.7 1696.0,2057.4 1697.8,2055.5 1699.6,2063.3 1701.4,2048.7 1703.2,2052.3 1705.1,2069.8 1706.9,2057.9 1708.7,2056.7 1710.5,2063.6 1712.5,2074.1 1714.5,2073.1 1716.6,2064.7 1718.6,2076.3 1720.6,2082.1 1722.6,2089.4 1724.6,2082.1 1726.6,2094.7 1728.9,2097.9 1731.2,2084.9 1733.5,2093.5 1735.7,2103.6 1738.0,2111.5 1740.2,2135.5 1745.4,2152.8 1748.9,2204.7 1752.3,2280.0 1754.0,2311.8 1767.9,2398.3 1773.0,2600.0 1878.5,2600.0 1888.9,2363.7 1897.5,2260.0 1900.1,2231.2 1902.7,2204.7 1906.2,2180.7 1909.6,2152.8 1912.4,2144.1 1915.1,2138.2 1917.9,2127.7 1920.6,2120.1 1923.4,2111.4 1926.2,2107.4 1929.0,2101.1 1931.7,2093.2 1934.5,2089.6 1937.3,2083.7 1940.1,2081.5 1942.8,2076.9 1945.6,2073.8 1948.3,2074.2 1951.1,2069.9 1953.9,2067.9 1956.6,2064.5 1959.4,2063.5 1962.1,2060.5 1964.9,2059.5 1968.4,2059.0 1971.8,2056.0 1975.3,2054.3 1977.9,2050.1 1980.5,2050.4 1983.1,2044.9 1985.7,2044.0 1988.5,2042.1 1991.2,2040.0 1994.0,2041.8 1996.7,2038.3 1999.5,2038.8 2002.3,2040.3 2005.0,2039.9 2007.8,2042.9 2010.5,2045.1 2013.3,2045.7 2015.9,2047.6 2018.5,2049.0 2021.1,2050.8 2023.7,2052.6 2027.1,2050.6 2030.6,2049.5 2034.0,2047.4 2036.9,2047.5 2039.8,2050.8 2042.7,2051.5 2045.5,2055.8 2048.4,2057.8 2051.3,2057.8 2054.8,2076.8 2061.7,2121.7 2070.5,2125.2 2079.0,2090.6 2087.6,2156.3 2094.5,2123.5 2101.4,2166.7 2110.1,2139.0 2122.2,2102.7 2130.8,2152.8 2134.3,2222.0 2137.8,2260.0 2144.7,2600.0 2162.0,2600.0 2167.1,2260.0 2170.6,2187.4 2175.8,2135.5 2186.2,2111.4 2193.1,2139.0 2196.5,2204.7 2200.0,2280.0 2200.0,2600.0 2205.2,2600.0 2205.2,1938.5 2236.0,1938.5" fill="none" stroke="#ff00ff" stroke-width="7.8" stroke-linejoin="round" stroke-linecap="butt" />
<polyline points="140.0,2060.5 142.4,2069.0 144.8,2062.6 147.2,2069.8 149.6,2065.1 152.0,2070.1 154.4,2067.0 156.0,2064.5 156.8,2068.7 159.2,2063.4 161.6,2067.7 164.0,2058.5 166.4,2064.3 168.8,2055.8 171.2,2063.2 173.6,2052.5 175.0,2045.5 176.0,2063.6 178.4,2045.9 180.8,2063.9 183.2,2044.4 185.6,2063.3 188.0,2051.1 190.0,2037.5 190.4,2060.0 192.8,2036.7 194.0,2027.5 195.2,2056.5 196.0,2000.5 197.6,2052.6 199.0,2002.5 200.0,2049.2 201.0,2024.5 202.4,2052.2 204.8,2027.4 207.2,2045.3 209.6,2029.7 211.0,2017.5 212.0,2041.4 213.0,1994.5 214.4,2049.8 216.0,1995.5 216.8,2042.7 219.0,2020.5 219.2,2047.3 221.6,2024.6 223.0,2014.5 224.0,2044.8 225.0,1933.5 226.4,2051.7 228.8,1938.7 229.0,1935.5 231.0,2017.5 231.2,2052.1 233.6,2000.4 234.0,1977.5 236.0,2038.2 237.0,1978.5 238.4,2055.2 239.0,2022.5 240.8,2048.7 242.0,1970.5 243.2,2056.1 245.6,2002.9 246.0,1970.5 248.0,2022.5 250.4,2055.5 252.8,1992.1 254.0,1970.5 255.2,2047.5 257.6,1985.8 258.0,1971.5 260.0,2057.5 261.0,2024.5 262.4,2050.9 264.8,2028.5 267.2,2055.2 269.6,2024.5 272.0,2051.2 274.4,2030.3 276.8,2045.7 277.0,2019.5 279.2,2047.0 281.0,2007.5 281.6,2038.2 283.0,1947.5 284.0,2021.0 286.4,1955.8 287.0,1944.5 288.8,2034.2 290.0,2002.5 291.2,2027.1 293.0,1938.5 293.6,2022.3 296.0,1964.9 297.0,1936.5 298.4,2029.5 300.0,2007.5 300.8,2045.9 303.2,2026.8 305.0,2012.5 305.6,2053.4 308.0,2012.9 309.0,1995.5 310.4,2055.5 312.0,1995.5 312.8,2066.8 315.2,2028.9 316.0,2027.5 317.6,2074.1 320.0,2032.5 322.4,2078.6 324.8,2035.5 327.2,2074.6 329.6,2009.1 331.0,1992.5 332.0,2091.9 334.0,1992.5 334.4,2097.1 336.8,2042.1 337.0,2037.5 339.2,2102.0 341.6,2060.3 344.0,2012.5 346.4,2118.5 347.0,2012.5 348.8,2125.3 350.0,2062.5 351.2,2116.5 353.6,2081.6 355.0,2077.5 356.0,2122.0 358.4,2090.1 360.0,2060.5 360.8,2132.3 363.0,2062.5 363.2,2126.2 365.6,2100.0 367.0,2094.5 368.0,2131.7 370.4,2103.7 372.8,2138.2 375.2,2103.3 377.6,2145.8 380.0,2107.5 382.4,2156.3 384.8,2120.2 387.2,2152.8 389.0,2110.5 389.6,2150.4 392.0,2117.5 394.4,2156.6 396.8,2129.5 399.2,2157.8 400.0,2114.5 401.6,2156.8 404.0,2152.5 406.4,2166.9 408.8,2167.8 410.0,2170.5 411.2,2173.9 413.6,2176.6 416.0,2180.4 418.4,2181.7 420.0,2182.5" fill="none" stroke="#ff00ff" stroke-width="4.2" stroke-linejoin="round" stroke-linecap="butt" />
<polygon points="140.0,2067.3 142.4,2068.0 144.8,2068.6 147.2,2069.2 149.6,2069.1 152.0,2068.9 154.4,2068.7 156.0,2068.6 156.8,2068.1 159.2,2066.6 161.6,2065.1 164.0,2063.5 166.4,2062.3 168.8,2061.2 171.2,2060.1 173.6,2059.0 175.0,2058.4 176.0,2058.2 178.4,2057.6 180.8,2057.0 183.2,2056.4 185.6,2055.9 188.0,2055.3 190.0,2054.8 190.4,2054.2 192.8,2050.5 194.0,2048.6 195.2,2040.8 196.0,2035.6 197.6,2035.4 199.0,2035.2 200.0,2039.8 201.0,2044.3 202.4,2043.3 204.8,2041.6 207.2,2039.9 209.6,2038.2 211.0,2037.3 212.0,2031.7 213.0,2026.1 214.4,2025.8 216.0,2025.5 216.8,2028.6 219.0,2037.3 219.2,2037.2 221.6,2036.0 223.0,2035.4 224.0,2017.3 225.0,1999.3 226.4,1999.9 228.8,2000.9 229.0,2001.0 231.0,2038.2 231.2,2037.0 233.6,2022.9 234.0,2020.5 236.0,2021.0 237.0,2021.3 238.4,2035.3 239.0,2041.3 240.8,2027.4 242.0,2018.2 243.2,2018.3 245.6,2018.6 246.0,2018.6 248.0,2042.2 250.4,2033.1 252.8,2024.0 254.0,2019.4 255.2,2019.6 257.6,2020.0 258.0,2020.1 260.0,2036.2 261.0,2044.2 262.4,2044.1 264.8,2044.0 267.2,2043.8 269.6,2043.6 272.0,2043.5 274.4,2041.9 276.8,2039.4 277.0,2039.2 279.2,2034.2 281.0,2030.1 281.6,2021.5 283.0,2002.0 284.0,2001.5 286.4,2000.4 287.0,2000.1 288.8,2015.4 290.0,2025.7 291.2,2014.0 293.0,1996.4 293.6,1996.2 296.0,1995.3 297.0,1995.9 298.4,2012.0 300.0,2030.4 300.8,2031.4 303.2,2034.5 305.0,2036.8 305.6,2036.2 308.0,2033.6 309.0,2032.6 310.4,2033.7 312.0,2035.3 312.8,2039.0 315.2,2050.1 316.0,2053.8 317.6,2056.4 320.0,2060.2 322.4,2058.4 324.8,2056.5 327.2,2054.6 329.6,2053.4 331.0,2053.9 332.0,2055.9 334.0,2059.9 334.4,2063.4 336.8,2084.4 337.0,2086.1 339.2,2083.4 341.6,2080.3 344.0,2077.2 346.4,2078.0 347.0,2078.2 348.8,2092.4 350.0,2101.8 351.2,2103.8 353.6,2107.8 355.0,2110.2 356.0,2109.0 358.4,2106.1 360.0,2104.2 360.8,2104.8 363.0,2106.3 363.2,2107.1 365.6,2116.8 367.0,2122.4 368.0,2123.2 370.4,2125.3 372.8,2127.5 375.2,2130.0 377.6,2132.5 380.0,2135.0 382.4,2136.8 384.8,2138.6 387.2,2139.5 389.0,2139.5 389.6,2140.0 392.0,2142.2 394.4,2141.5 396.8,2140.8 399.2,2141.0 400.0,2141.4 401.6,2149.3 404.0,2161.2 406.4,2166.0 408.8,2170.9 410.0,2173.3 411.2,2174.8 413.6,2177.7 416.0,2180.6 418.4,2183.6 420.0,2185.5 420.0,2185.9 418.4,2185.9 416.0,2182.6 413.6,2178.1 411.2,2175.2 410.0,2175.2 408.8,2171.9 406.4,2170.4 404.0,2166.3 401.6,2162.5 400.0,2162.5 399.2,2162.2 396.8,2161.2 394.4,2161.3 392.0,2159.7 389.6,2160.1 389.0,2160.3 387.2,2162.5 384.8,2162.4 382.4,2158.5 380.0,2156.1 377.6,2152.4 375.2,2150.5 372.8,2147.0 370.4,2147.1 368.0,2144.0 367.0,2144.0 365.6,2143.7 363.2,2139.9 363.0,2139.4 360.8,2140.3 360.0,2139.0 358.4,2136.9 356.0,2136.7 355.0,2136.6 353.6,2133.7 351.2,2134.3 350.0,2133.0 348.8,2130.3 347.0,2131.0 346.4,2130.1 344.0,2127.8 341.6,2126.6 339.2,2126.0 337.0,2123.9 336.8,2123.7 334.4,2114.7 334.0,2113.7 332.0,2107.3 331.0,2103.8 329.6,2099.1 327.2,2092.7 324.8,2088.1 322.4,2086.6 320.0,2080.1 317.6,2076.6 316.0,2074.3 315.2,2072.2 312.8,2068.6 312.0,2065.6 310.4,2063.3 309.0,2060.7 308.0,2059.7 305.6,2057.0 305.0,2055.4 303.2,2053.2 300.8,2050.3 300.0,2046.1 298.4,2044.2 297.0,2043.3 296.0,2040.1 293.6,2041.3 293.0,2041.3 291.2,2044.1 290.0,2042.0 288.8,2044.5 287.0,2044.0 286.4,2043.3 284.0,2044.0 283.0,2046.7 281.6,2047.5 281.0,2048.5 279.2,2050.0 277.0,2054.1 276.8,2054.1 274.4,2058.6 272.0,2061.2 269.6,2059.0 267.2,2058.7 264.8,2059.4 262.4,2059.4 261.0,2059.6 260.0,2058.3 258.0,2057.5 257.6,2058.4 255.2,2059.1 254.0,2058.6 252.8,2058.1 250.4,2057.2 248.0,2056.6 246.0,2056.9 245.6,2056.6 243.2,2054.8 242.0,2057.3 240.8,2055.3 239.0,2054.0 238.4,2055.7 237.0,2055.5 236.0,2054.3 234.0,2054.9 233.6,2053.9 231.2,2054.2 231.0,2054.8 229.0,2053.5 228.8,2053.5 226.4,2050.9 225.0,2051.3 224.0,2050.2 223.0,2049.9 221.6,2049.6 219.2,2050.1 219.0,2048.9 216.8,2048.9 216.0,2047.3 214.4,2049.2 213.0,2049.1 212.0,2050.9 211.0,2052.7 209.6,2052.5 207.2,2055.0 204.8,2055.0 202.4,2058.5 201.0,2059.2 200.0,2060.8 199.0,2060.7 197.6,2061.0 196.0,2063.4 195.2,2064.7 194.0,2063.9 192.8,2066.7 190.4,2067.2 190.0,2067.9 188.0,2067.1 185.6,2066.2 183.2,2066.4 180.8,2067.0 178.4,2067.2 176.0,2068.4 175.0,2066.0 173.6,2068.9 171.2,2066.2 168.8,2066.9 166.4,2067.4 164.0,2067.0 161.6,2068.0 159.2,2068.1 156.8,2070.2 156.0,2069.7 154.4,2070.8 152.0,2072.3 149.6,2073.9 147.2,2072.4 144.8,2072.0 142.4,2072.5 140.0,2072.3" fill="#ff00ff" stroke="#ff00ff" stroke-width="3" stroke-linejoin="round"/>
<polyline points="1481.0,2064.5 1483.4,2081.7 1485.8,2071.1 1488.2,2086.8 1490.0,2060.5 1490.6,2084.9 1493.0,2070.6 1495.4,2090.5 1497.8,2070.9 1500.0,2062.5 1500.2,2089.1 1502.6,2063.3 1505.0,2058.5 1507.4,2095.5 1509.8,2066.9 1512.0,2064.5 1512.2,2093.9 1514.6,2068.8 1517.0,2093.5 1519.4,2072.9 1520.0,2070.5 1521.8,2097.5 1524.2,2084.8 1526.6,2107.4 1528.0,2080.5 1529.0,2110.4 1531.4,2093.6 1533.8,2116.3 1535.0,2090.5 1536.2,2119.9 1538.6,2075.8 1539.0,2072.5 1541.0,2100.4 1541.6,2051.5 1543.4,2102.7 1544.0,2052.5 1545.8,2101.0 1547.0,2077.5 1548.2,2101.7 1550.6,2075.8 1553.0,2070.5 1555.4,2096.8 1557.8,2076.0 1560.0,2066.5" fill="none" stroke="#ff00ff" stroke-width="4.2" stroke-linejoin="round" stroke-linecap="butt" />
<polygon points="1481.0,2076.3 1483.4,2076.7 1485.8,2077.1 1488.2,2077.5 1490.0,2077.8 1490.6,2078.0 1493.0,2078.6 1495.4,2079.2 1497.8,2079.8 1500.0,2080.3 1500.2,2080.4 1502.6,2080.8 1505.0,2081.3 1507.4,2081.8 1509.8,2082.4 1512.0,2082.9 1512.2,2083.1 1514.6,2085.2 1517.0,2087.3 1519.4,2089.5 1520.0,2090.0 1521.8,2092.1 1524.2,2095.0 1526.6,2097.8 1528.0,2099.4 1529.0,2100.8 1531.4,2104.0 1533.8,2107.3 1535.0,2108.9 1536.2,2105.7 1538.6,2099.3 1539.0,2098.3 1541.0,2089.8 1541.6,2087.2 1543.4,2086.5 1544.0,2086.3 1545.8,2092.1 1547.0,2095.9 1548.2,2094.6 1550.6,2091.8 1553.0,2088.5 1555.4,2085.7 1557.8,2083.0 1560.0,2080.5 1560.0,2091.0 1557.8,2093.7 1555.4,2099.2 1553.0,2103.1 1550.6,2107.0 1548.2,2108.9 1547.0,2109.3 1545.8,2109.4 1544.0,2113.0 1543.4,2112.3 1541.6,2114.1 1541.0,2116.6 1539.0,2118.7 1538.6,2118.4 1536.2,2122.6 1535.0,2123.4 1533.8,2121.4 1531.4,2118.5 1529.0,2114.9 1528.0,2114.8 1526.6,2111.4 1524.2,2109.6 1521.8,2107.0 1520.0,2103.4 1519.4,2102.9 1517.0,2100.9 1514.6,2098.7 1512.2,2095.6 1512.0,2097.6 1509.8,2098.3 1507.4,2096.4 1505.0,2099.1 1502.6,2095.3 1500.2,2092.4 1500.0,2093.1 1497.8,2092.8 1495.4,2091.2 1493.0,2090.8 1490.6,2090.2 1490.0,2090.4 1488.2,2087.9 1485.8,2089.0 1483.4,2086.1 1481.0,2085.8" fill="#ff00ff" stroke="#ff00ff" stroke-width="3" stroke-linejoin="round"/>
<polyline points="1589.0,2027.5 1591.4,2026.5 1592.0,2012.5 1593.8,2024.2 1596.0,2007.5 1596.2,2019.0 1598.0,1954.5 1598.6,2014.4 1601.0,1952.5 1603.4,2022.3 1604.0,2002.5 1605.8,2018.6 1608.0,1964.5 1608.2,2023.6 1610.6,1969.6 1611.0,1963.5 1613.0,2013.4 1614.0,2002.5 1615.4,2007.8 1617.0,1968.5 1617.8,2005.7 1620.0,1967.5 1620.2,1999.0 1622.6,1999.5 1623.0,1997.5 1625.0,2001.3 1626.0,1952.5 1627.4,1998.4 1629.0,1946.5 1629.8,2002.9 1632.0,1948.5 1632.2,2008.4 1634.6,1995.5 1635.0,1997.5 1637.0,2017.1 1639.4,2002.0 1640.0,1997.5 1641.8,2029.7 1644.2,2006.5 1645.0,2005.5 1646.6,2034.3 1649.0,2011.0 1650.0,2010.5 1651.4,2036.0 1653.8,2015.2 1656.0,2014.5 1656.2,2044.8 1658.6,2033.6 1661.0,2043.2 1663.4,2042.4 1664.0,2040.5" fill="none" stroke="#ff00ff" stroke-width="4.2" stroke-linejoin="round" stroke-linecap="butt" />
<polygon points="1589.0,2028.8 1591.4,2022.9 1592.0,2021.4 1593.8,2020.0 1596.0,2018.2 1596.2,2015.8 1598.0,1994.6 1598.6,1994.5 1601.0,1994.0 1603.4,2012.3 1604.0,2016.8 1605.8,2009.3 1608.0,1997.8 1608.2,1997.5 1610.6,1994.5 1611.0,1994.0 1613.0,2004.0 1614.0,2009.3 1615.4,2001.4 1617.0,1992.4 1617.8,1991.8 1620.0,1990.6 1620.2,1991.4 1622.6,2001.2 1623.0,2002.8 1625.0,1988.5 1626.0,1981.4 1627.4,1980.6 1629.0,1979.8 1629.8,1980.3 1632.0,1981.7 1632.2,1983.5 1634.6,2004.4 1635.0,2007.9 1637.0,2010.7 1639.4,2014.0 1640.0,2014.8 1641.8,2017.3 1644.2,2020.7 1645.0,2021.8 1646.6,2023.7 1649.0,2026.2 1650.0,2027.2 1651.4,2028.4 1653.8,2030.5 1656.0,2032.3 1656.2,2032.7 1658.6,2037.0 1661.0,2041.4 1663.4,2045.7 1664.0,2046.8 1664.0,2050.2 1663.4,2050.9 1661.0,2047.6 1658.6,2047.0 1656.2,2046.7 1656.0,2044.9 1653.8,2044.3 1651.4,2042.1 1650.0,2040.5 1649.0,2039.0 1646.6,2036.3 1645.0,2034.5 1644.2,2031.7 1641.8,2029.4 1640.0,2027.2 1639.4,2027.0 1637.0,2019.3 1635.0,2015.3 1634.6,2014.7 1632.2,2007.8 1632.0,2007.3 1629.8,2005.0 1629.0,2004.7 1627.4,2004.1 1626.0,2004.0 1625.0,2003.0 1623.0,2005.1 1622.6,2006.7 1620.2,2006.4 1620.0,2006.8 1617.8,2010.7 1617.0,2011.5 1615.4,2011.5 1614.0,2014.9 1613.0,2013.5 1611.0,2016.2 1610.6,2018.2 1608.2,2022.7 1608.0,2023.3 1605.8,2027.0 1604.0,2027.6 1603.4,2027.9 1601.0,2025.9 1598.6,2025.9 1598.0,2024.9 1596.2,2026.4 1596.0,2024.3 1593.8,2027.4 1592.0,2027.7 1591.4,2026.0 1589.0,2029.4" fill="#ff00ff" stroke="#ff00ff" stroke-width="3" stroke-linejoin="round"/>
</g>
<text x="128.8" y="2679.5" font-size="61.5" font-family="'Liberation Sans', Arial, sans-serif" text-anchor="middle" textLength="136" lengthAdjust="spacingAndGlyphs" >4000</text>
<text x="430.3" y="2679.5" font-size="61.5" font-family="'Liberation Sans', Arial, sans-serif" text-anchor="middle" textLength="136" lengthAdjust="spacingAndGlyphs" >3500</text>
<text x="729" y="2679.5" font-size="61.5" font-family="'Liberation Sans', Arial, sans-serif" text-anchor="middle" textLength="136" lengthAdjust="spacingAndGlyphs" >3000</text>
<text x="1026.8" y="2679.5" font-size="61.5" font-family="'Liberation Sans', Arial, sans-serif" text-anchor="middle" textLength="136" lengthAdjust="spacingAndGlyphs" >2500</text>
<text x="1326.4" y="2679.5" font-size="61.5" font-family="'Liberation Sans', Arial, sans-serif" text-anchor="middle" textLength="136" lengthAdjust="spacingAndGlyphs" >2000</text>
<text x="1627.6" y="2679.5" font-size="61.5" font-family="'Liberation Sans', Arial, sans-serif" text-anchor="middle" textLength="136" lengthAdjust="spacingAndGlyphs" >1500</text>
<text x="1927.4" y="2679.5" font-size="61.5" font-family="'Liberation Sans', Arial, sans-serif" text-anchor="middle" textLength="136" lengthAdjust="spacingAndGlyphs" >1000</text>
<text x="2223" y="2679.5" font-size="61.5" font-family="'Liberation Sans', Arial, sans-serif" text-anchor="middle" textLength="100" lengthAdjust="spacingAndGlyphs" >500</text>
<text x="145" y="1649.5" font-size="52" font-family="'Liberation Serif', 'Times New Roman', serif" text-anchor="start" textLength="194" lengthAdjust="spacingAndGlyphs" >untreated</text>
<text x="136" y="1796.9" font-size="50.5" font-family="'Liberation Serif', 'Times New Roman', serif" text-anchor="start" textLength="200" lengthAdjust="spacingAndGlyphs" >Au&#8722;W&#8722;P</text>
<text x="138" y="1931.7" font-size="50.5" font-family="'Liberation Serif', 'Times New Roman', serif" text-anchor="start" textLength="320" lengthAdjust="spacingAndGlyphs" >Au&#8722;W&#8722;13F&#8722;P</text>
<text x="141" y="2136.8" font-size="50.5" font-family="'Liberation Serif', 'Times New Roman', serif" text-anchor="start" textLength="344" lengthAdjust="spacingAndGlyphs" >Au&#8722;W&#8722;101F&#8722;P</text>
<text x="465" y="2398.3" font-size="55" font-family="'Liberation Serif', 'Times New Roman', serif" text-anchor="start" textLength="85" lengthAdjust="spacingAndGlyphs" >OH</text>
<text x="1372" y="2175.3" font-size="56.6" font-family="'Liberation Serif', 'Times New Roman', serif" text-anchor="start" textLength="98" lengthAdjust="spacingAndGlyphs" >O&#8722;F</text>
<text x="1415" y="2271.2" font-size="56" font-family="'Liberation Serif', 'Times New Roman', serif" text-anchor="start" textLength="108" lengthAdjust="spacingAndGlyphs" >C=O</text>
<text x="1529" y="2241" font-size="56" font-family="'Liberation Serif', 'Times New Roman', serif" text-anchor="start" textLength="103" lengthAdjust="spacingAndGlyphs" >C=C</text>
<rect x="389.9" y="1690.6" width="225.6" height="639.2" fill="none" stroke="#222" stroke-width="2.2" stroke-dasharray="3.5,2.5"/>
<line x1="1420.7" y1="1800.2" x2="1420.7" y2="2100" stroke="#222" stroke-width="2.2" stroke-dasharray="3.5,2.5"/>
<line x1="1484" y1="1862.5" x2="1484" y2="2192" stroke="#222" stroke-width="2.2" stroke-dasharray="3.5,2.5"/>
<line x1="1559.3" y1="1667.4" x2="1559.3" y2="2188" stroke="#222" stroke-width="2.2" stroke-dasharray="3.5,2.5"/>
<text x="886" y="2786.9" font-size="95" font-family="'Liberation Serif', 'Times New Roman', serif" text-anchor="start" textLength="672" lengthAdjust="spacingAndGlyphs" >Wavenumber (cm</text>
<text x="1556" y="2761.5" font-size="68" font-family="'Liberation Serif', 'Times New Roman', serif" text-anchor="start" textLength="44" lengthAdjust="spacingAndGlyphs" >-1</text>
<text x="1605" y="2786.9" font-size="95" font-family="'Liberation Serif', 'Times New Roman', serif" text-anchor="start" >)</text>
<g transform="translate(80,2392) rotate(-90)"><text x="0" y="0" font-size="85" font-family="'Liberation Serif', 'Times New Roman', serif" text-anchor="start" textLength="615" lengthAdjust="spacingAndGlyphs" >Transmittance&#160; (%)</text></g>
</svg>
</body></html>
